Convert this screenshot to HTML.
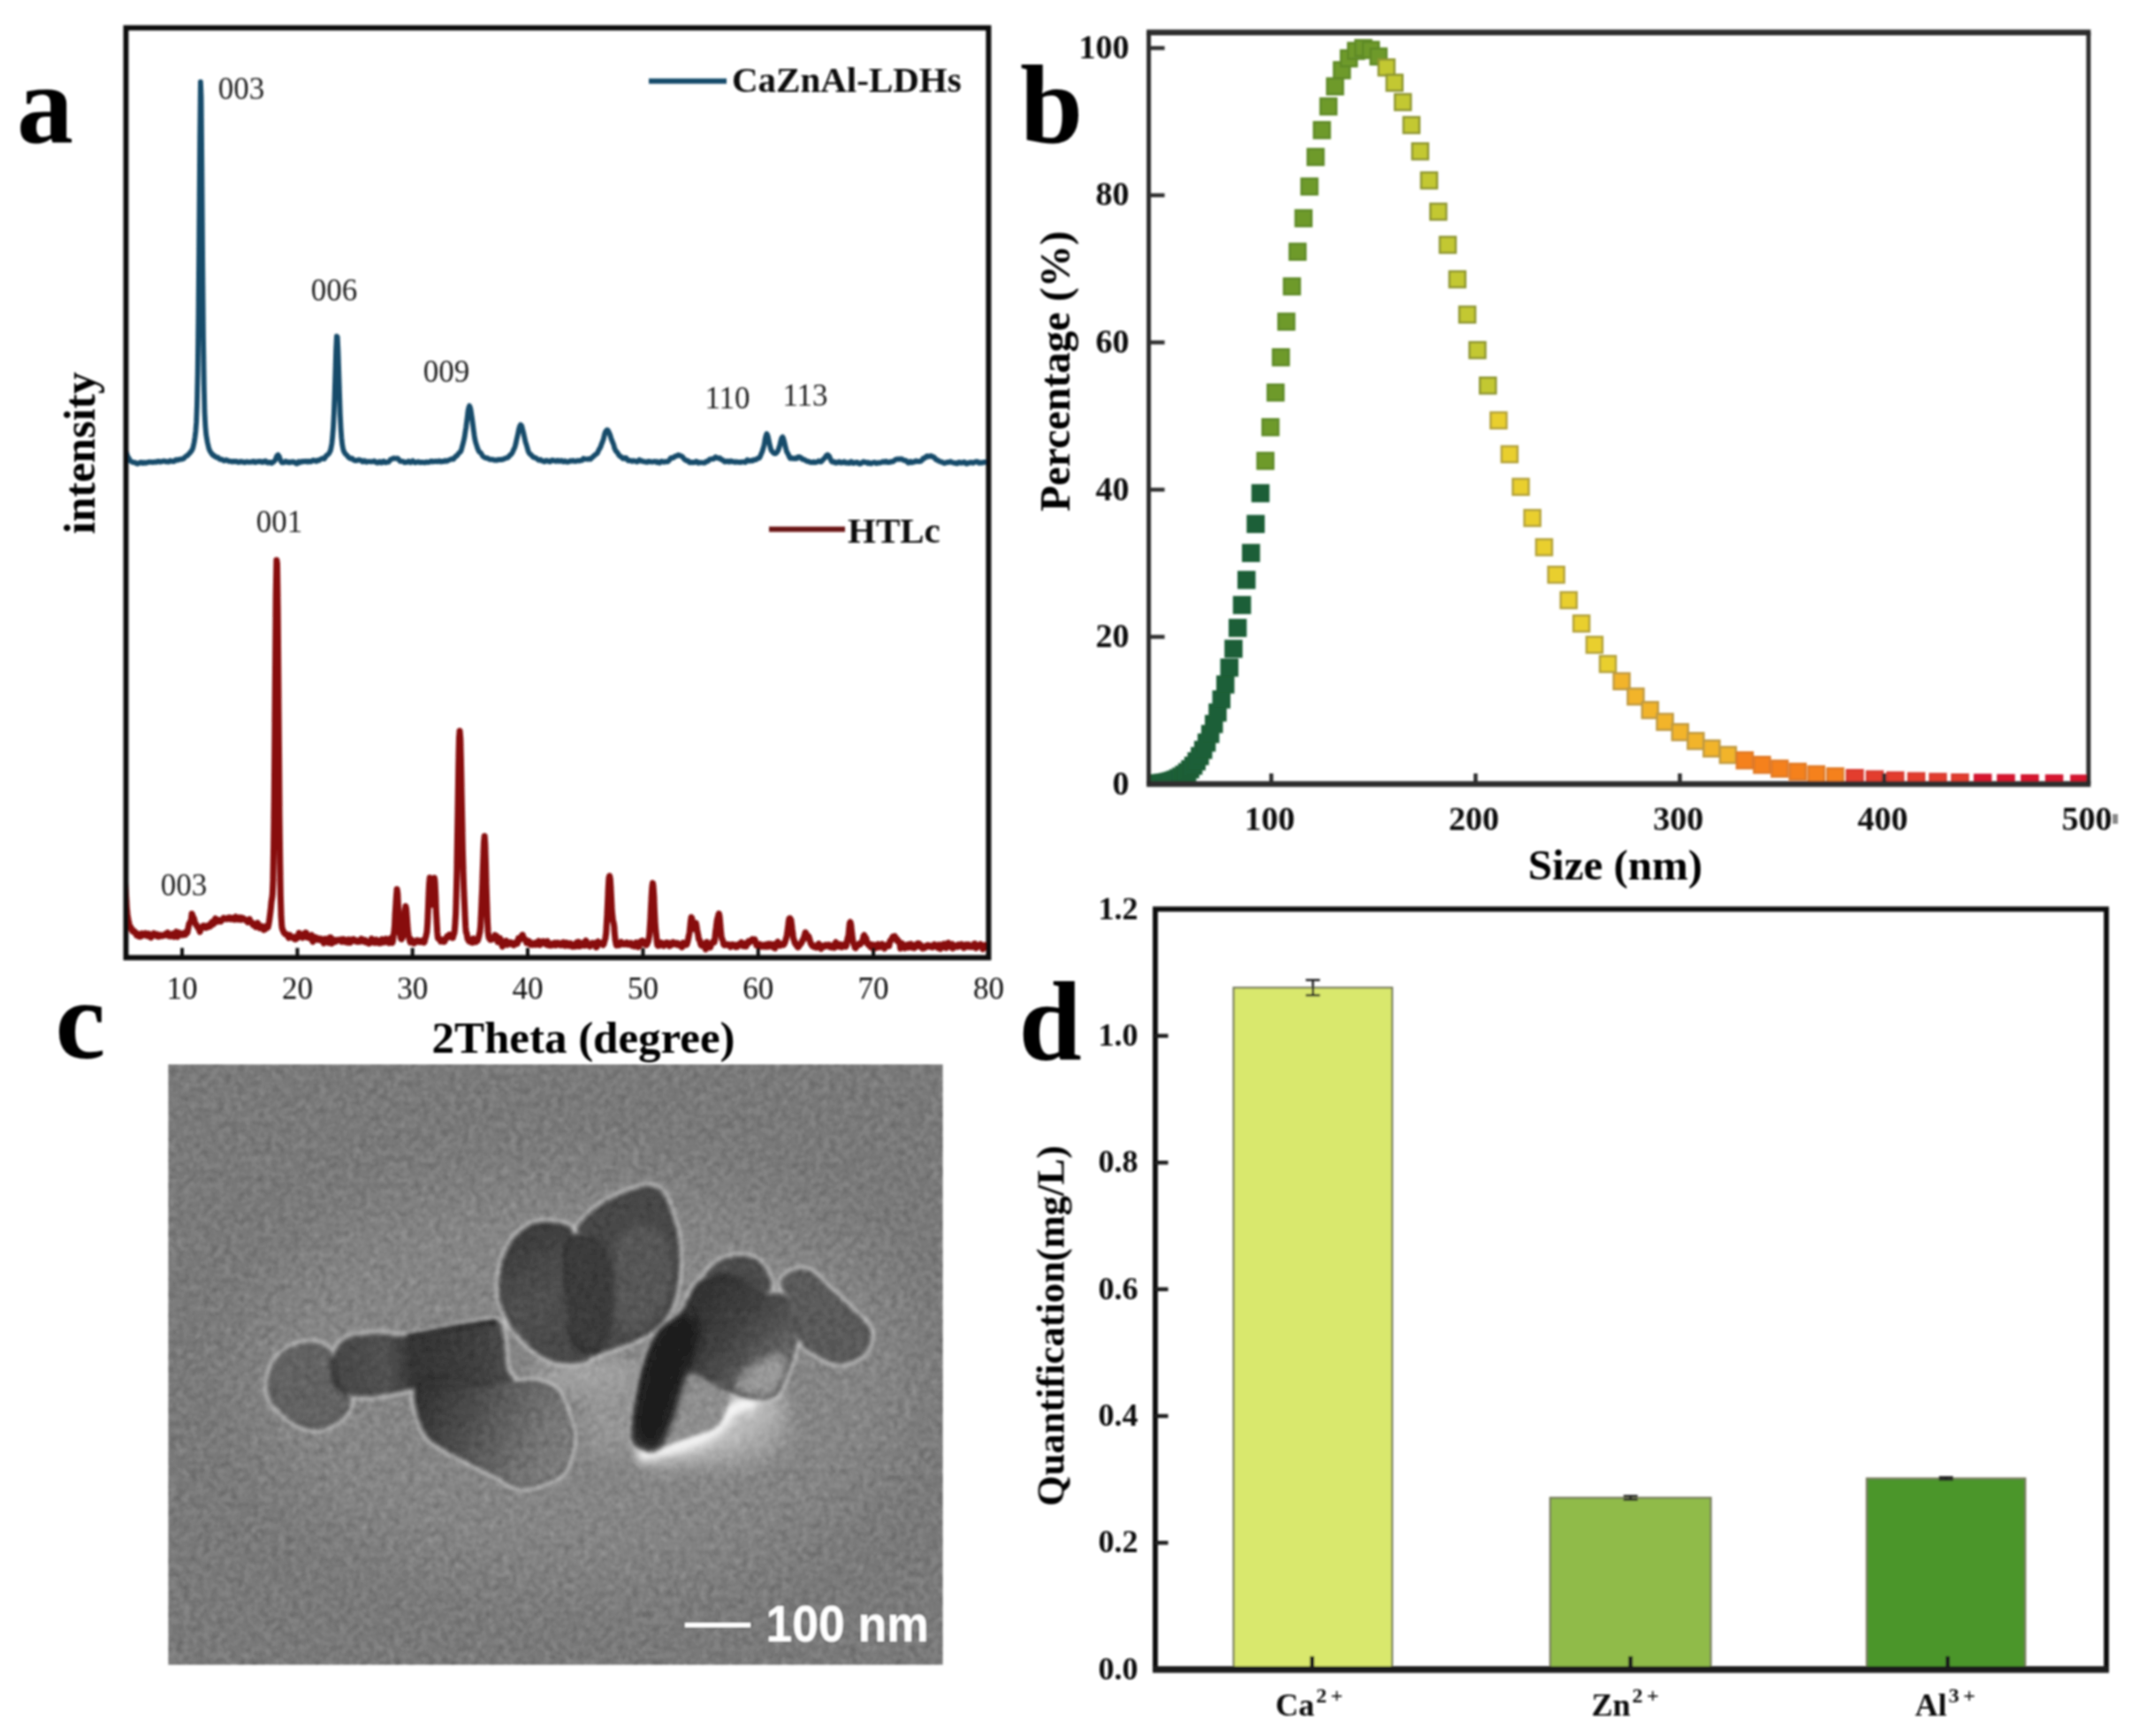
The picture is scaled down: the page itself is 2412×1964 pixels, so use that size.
<!DOCTYPE html>
<html><head><meta charset="utf-8"><title>Figure</title>
<style>html,body{margin:0;padding:0;background:#fff;overflow:hidden;}svg{display:block}</style></head>
<body>
<svg width="2412" height="1964" viewBox="0 0 2412 1964">
<rect width="2412" height="1964" fill="#ffffff"/>
<defs><filter id="soft" x="0" y="0" width="100%" height="100%" filterUnits="userSpaceOnUse"><feGaussianBlur stdDeviation="0.9"/></filter></defs>
<g id="all" filter="url(#soft)">
<clipPath id="clipA"><rect x="142.5" y="31.5" width="975.9000000000001" height="1051.9"/></clipPath>
<g clip-path="url(#clipA)" fill="none" stroke-linejoin="round" stroke-linecap="round">
<path d="M140.8,509.1 L141.6,509.5 L142.4,511.0 L143.2,512.9 L144.0,515.1 L144.7,516.8 L145.5,518.0 L146.3,519.4 L147.1,520.8 L147.9,521.9 L148.6,522.2 L149.4,522.3 L150.2,523.0 L151.0,523.2 L151.8,523.1 L152.6,523.3 L153.3,523.4 L154.1,524.3 L154.9,524.2 L155.7,524.7 L156.5,524.1 L157.2,524.1 L158.0,523.4 L158.8,523.3 L159.6,522.9 L160.4,523.8 L161.2,524.0 L161.9,524.0 L162.7,523.1 L163.5,523.4 L164.3,523.5 L165.1,523.9 L165.9,523.6 L166.6,523.1 L167.4,523.0 L168.2,522.7 L169.0,522.8 L169.8,522.7 L170.5,522.7 L171.3,522.9 L172.1,522.7 L172.9,523.0 L173.7,523.0 L174.5,522.6 L175.2,522.7 L176.0,522.4 L176.8,522.8 L177.6,522.4 L178.4,522.0 L179.1,521.8 L179.9,521.9 L180.7,522.6 L181.5,522.6 L182.3,522.2 L183.1,522.0 L183.8,522.1 L184.6,521.8 L185.4,521.5 L186.2,521.7 L187.0,521.8 L187.8,522.4 L188.5,522.0 L189.3,522.4 L190.1,522.4 L190.9,522.5 L191.7,521.7 L192.4,521.1 L193.2,521.3 L194.0,521.8 L194.8,521.9 L195.6,522.0 L196.4,521.8 L197.1,522.0 L197.9,520.8 L198.7,520.2 L199.5,520.2 L200.3,520.6 L201.0,520.7 L201.8,519.9 L202.6,519.8 L203.4,519.6 L204.2,519.8 L205.0,519.4 L205.7,519.1 L206.5,519.3 L207.3,518.9 L208.1,518.7 L208.9,517.5 L209.6,516.8 L210.4,516.2 L211.2,515.8 L212.0,515.5 L212.8,514.4 L213.6,513.8 L214.3,512.6 L215.1,512.3 L215.9,510.9 L216.7,510.1 L217.5,508.6 L218.3,506.7 L219.0,503.7 L219.8,499.7 L220.6,494.3 L221.4,487.8 L222.2,477.2 L222.9,457.8 L223.7,420.2 L224.5,357.3 L225.3,266.8 L226.1,163.5 L226.9,92.6 L227.6,108.8 L228.4,197.5 L229.2,300.1 L230.0,382.0 L230.8,435.3 L231.5,466.0 L232.3,481.6 L233.1,490.7 L233.9,496.1 L234.7,500.6 L235.5,503.8 L236.2,507.0 L237.0,509.2 L237.8,510.7 L238.6,512.1 L239.4,512.7 L240.2,514.4 L240.9,514.4 L241.7,515.7 L242.5,515.5 L243.3,516.4 L244.1,517.1 L244.8,517.5 L245.6,517.4 L246.4,517.3 L247.2,518.2 L248.0,519.0 L248.8,519.6 L249.5,519.4 L250.3,519.8 L251.1,519.7 L251.9,520.5 L252.7,520.7 L253.4,521.3 L254.2,520.8 L255.0,520.8 L255.8,520.2 L256.6,520.7 L257.4,521.0 L258.1,521.5 L258.9,521.8 L259.7,521.7 L260.5,521.8 L261.3,521.8 L262.1,522.3 L262.8,522.5 L263.6,521.9 L264.4,521.8 L265.2,521.9 L266.0,522.4 L266.7,521.8 L267.5,521.9 L268.3,522.2 L269.1,522.9 L269.9,523.0 L270.7,522.8 L271.4,522.6 L272.2,522.0 L273.0,522.5 L273.8,522.4 L274.6,522.6 L275.3,522.5 L276.1,523.0 L276.9,523.3 L277.7,522.8 L278.5,522.6 L279.3,522.1 L280.0,522.6 L280.8,522.6 L281.6,522.9 L282.4,522.7 L283.2,522.7 L283.9,522.6 L284.7,522.8 L285.5,522.3 L286.3,522.0 L287.1,521.9 L287.9,522.5 L288.6,523.2 L289.4,523.0 L290.2,522.5 L291.0,522.1 L291.8,522.3 L292.6,522.4 L293.3,522.0 L294.1,521.9 L294.9,522.3 L295.7,522.1 L296.5,522.9 L297.2,522.4 L298.0,522.8 L298.8,522.1 L299.6,521.7 L300.4,521.4 L301.2,522.1 L301.9,523.3 L302.7,523.5 L303.5,523.5 L304.3,522.9 L305.1,522.9 L305.8,523.1 L306.6,523.8 L307.4,524.0 L308.2,523.4 L309.0,522.6 L309.8,522.2 L310.5,521.6 L311.3,520.5 L312.1,518.6 L312.9,516.5 L313.7,515.1 L314.5,514.6 L315.2,515.4 L316.0,516.7 L316.8,519.3 L317.6,521.2 L318.4,522.8 L319.1,523.3 L319.9,523.2 L320.7,523.3 L321.5,522.9 L322.3,522.8 L323.1,521.9 L323.8,522.5 L324.6,522.3 L325.4,523.0 L326.2,522.5 L327.0,523.3 L327.7,523.4 L328.5,523.1 L329.3,522.6 L330.1,522.4 L330.9,522.8 L331.7,522.4 L332.4,522.4 L333.2,523.0 L334.0,523.6 L334.8,524.2 L335.6,524.6 L336.3,524.5 L337.1,523.4 L337.9,522.2 L338.7,522.4 L339.5,523.2 L340.3,522.8 L341.0,522.3 L341.8,521.9 L342.6,522.3 L343.4,522.3 L344.2,522.0 L345.0,521.8 L345.7,521.7 L346.5,522.3 L347.3,522.2 L348.1,522.5 L348.9,521.7 L349.6,522.3 L350.4,522.0 L351.2,522.3 L352.0,522.3 L352.8,521.6 L353.6,521.0 L354.3,520.6 L355.1,520.8 L355.9,521.1 L356.7,521.7 L357.5,521.8 L358.2,521.8 L359.0,520.7 L359.8,521.0 L360.6,520.9 L361.4,520.8 L362.2,519.8 L362.9,519.4 L363.7,519.1 L364.5,518.7 L365.3,518.6 L366.1,518.4 L366.9,519.1 L367.6,517.9 L368.4,516.9 L369.2,515.4 L370.0,515.0 L370.8,514.4 L371.5,513.7 L372.3,512.8 L373.1,511.4 L373.9,509.5 L374.7,506.0 L375.5,501.4 L376.2,494.4 L377.0,484.3 L377.8,468.9 L378.6,447.1 L379.4,421.6 L380.1,396.5 L380.9,380.5 L381.7,381.1 L382.5,397.7 L383.3,422.2 L384.1,447.1 L384.8,468.4 L385.6,484.6 L386.4,495.2 L387.2,502.7 L388.0,507.1 L388.8,510.3 L389.5,511.4 L390.3,513.1 L391.1,513.8 L391.9,514.6 L392.7,515.2 L393.4,516.3 L394.2,517.4 L395.0,517.8 L395.8,518.4 L396.6,518.8 L397.4,518.5 L398.1,518.5 L398.9,519.0 L399.7,520.3 L400.5,520.4 L401.3,520.9 L402.0,521.1 L402.8,521.0 L403.6,521.0 L404.4,520.5 L405.2,520.5 L406.0,520.2 L406.7,520.5 L407.5,520.5 L408.3,520.7 L409.1,521.2 L409.9,522.4 L410.6,522.4 L411.4,521.8 L412.2,521.1 L413.0,521.4 L413.8,522.3 L414.6,522.8 L415.3,522.5 L416.1,522.3 L416.9,522.1 L417.7,522.1 L418.5,522.2 L419.3,522.3 L420.0,522.4 L420.8,522.3 L421.6,522.2 L422.4,521.7 L423.2,521.5 L423.9,521.6 L424.7,522.8 L425.5,522.9 L426.3,523.6 L427.1,523.6 L427.9,523.4 L428.6,522.5 L429.4,522.1 L430.2,523.0 L431.0,523.4 L431.8,523.6 L432.5,522.8 L433.3,521.9 L434.1,521.6 L434.9,522.1 L435.7,523.2 L436.5,523.3 L437.2,523.0 L438.0,522.9 L438.8,522.6 L439.6,522.7 L440.4,521.6 L441.2,520.9 L441.9,519.6 L442.7,519.6 L443.5,519.2 L444.3,519.0 L445.1,518.4 L445.8,518.3 L446.6,518.5 L447.4,518.8 L448.2,518.6 L449.0,518.6 L449.8,518.5 L450.5,519.0 L451.3,520.1 L452.1,521.1 L452.9,521.9 L453.7,521.6 L454.4,521.9 L455.2,521.9 L456.0,522.1 L456.8,522.5 L457.6,523.3 L458.4,523.1 L459.1,522.6 L459.9,523.0 L460.7,522.8 L461.5,522.7 L462.3,521.7 L463.1,522.2 L463.8,522.5 L464.6,523.3 L465.4,522.4 L466.2,522.3 L467.0,521.4 L467.7,522.5 L468.5,522.3 L469.3,523.4 L470.1,523.3 L470.9,523.0 L471.7,522.9 L472.4,522.4 L473.2,522.6 L474.0,522.5 L474.8,523.0 L475.6,523.3 L476.3,522.9 L477.1,522.9 L477.9,523.0 L478.7,523.1 L479.5,523.2 L480.3,523.4 L481.0,523.3 L481.8,522.6 L482.6,522.7 L483.4,522.6 L484.2,523.1 L484.9,522.9 L485.7,522.6 L486.5,522.5 L487.3,521.7 L488.1,522.2 L488.9,521.8 L489.6,522.4 L490.4,522.3 L491.2,522.2 L492.0,522.2 L492.8,521.7 L493.6,521.8 L494.3,522.1 L495.1,522.3 L495.9,522.2 L496.7,521.4 L497.5,521.6 L498.2,521.6 L499.0,522.4 L499.8,521.8 L500.6,522.1 L501.4,522.0 L502.2,522.1 L502.9,521.3 L503.7,521.1 L504.5,521.3 L505.3,521.8 L506.1,521.5 L506.8,520.8 L507.6,520.7 L508.4,520.3 L509.2,520.0 L510.0,519.8 L510.8,519.1 L511.5,519.3 L512.3,519.2 L513.1,519.5 L513.9,518.2 L514.7,517.4 L515.5,516.2 L516.2,516.2 L517.0,515.4 L517.8,514.6 L518.6,513.1 L519.4,512.4 L520.1,511.7 L520.9,511.2 L521.7,509.6 L522.5,506.8 L523.3,503.7 L524.1,500.7 L524.8,497.9 L525.6,494.2 L526.4,488.6 L527.2,483.6 L528.0,477.3 L528.7,471.9 L529.5,464.9 L530.3,461.2 L531.1,459.1 L531.9,460.9 L532.7,464.3 L533.4,469.1 L534.2,474.4 L535.0,480.3 L535.8,486.8 L536.6,492.7 L537.3,497.0 L538.1,500.4 L538.9,502.8 L539.7,505.3 L540.5,507.8 L541.3,509.6 L542.0,511.1 L542.8,511.6 L543.6,512.0 L544.4,513.0 L545.2,514.5 L546.0,515.8 L546.7,516.6 L547.5,517.1 L548.3,517.6 L549.1,518.1 L549.9,518.0 L550.6,518.3 L551.4,518.2 L552.2,518.7 L553.0,519.1 L553.8,519.7 L554.6,519.9 L555.3,519.9 L556.1,519.7 L556.9,519.7 L557.7,520.0 L558.5,520.2 L559.2,520.7 L560.0,520.4 L560.8,520.6 L561.6,520.8 L562.4,520.6 L563.2,520.4 L563.9,519.8 L564.7,519.9 L565.5,520.0 L566.3,520.2 L567.1,520.0 L567.9,520.0 L568.6,519.5 L569.4,519.6 L570.2,519.2 L571.0,518.9 L571.8,518.3 L572.5,518.2 L573.3,517.8 L574.1,517.9 L574.9,517.1 L575.7,516.7 L576.5,515.4 L577.2,514.7 L578.0,514.2 L578.8,513.4 L579.6,512.1 L580.4,510.4 L581.1,508.6 L581.9,507.4 L582.7,505.1 L583.5,502.1 L584.3,498.1 L585.1,494.6 L585.8,491.7 L586.6,487.7 L587.4,484.2 L588.2,481.8 L589.0,480.6 L589.8,481.3 L590.5,482.8 L591.3,486.3 L592.1,489.2 L592.9,492.9 L593.7,496.4 L594.4,499.7 L595.2,502.0 L596.0,504.7 L596.8,507.6 L597.6,510.4 L598.4,512.1 L599.1,513.3 L599.9,513.8 L600.7,514.5 L601.5,515.2 L602.3,516.3 L603.0,516.9 L603.8,517.6 L604.6,517.6 L605.4,517.6 L606.2,518.1 L607.0,518.7 L607.7,519.2 L608.5,519.9 L609.3,520.6 L610.1,520.7 L610.9,520.6 L611.6,520.1 L612.4,521.0 L613.2,521.3 L614.0,521.7 L614.8,521.5 L615.6,522.3 L616.3,522.3 L617.1,521.8 L617.9,521.0 L618.7,521.1 L619.5,521.5 L620.3,521.4 L621.0,522.2 L621.8,522.3 L622.6,522.4 L623.4,521.3 L624.2,520.7 L624.9,520.6 L625.7,520.7 L626.5,521.2 L627.3,521.4 L628.1,521.7 L628.9,521.8 L629.6,521.8 L630.4,521.0 L631.2,521.0 L632.0,521.3 L632.8,521.9 L633.5,521.4 L634.3,521.4 L635.1,521.0 L635.9,521.8 L636.7,521.8 L637.5,522.4 L638.2,521.8 L639.0,521.4 L639.8,521.8 L640.6,522.4 L641.4,522.6 L642.2,522.3 L642.9,522.5 L643.7,522.2 L644.5,521.8 L645.3,521.1 L646.1,521.6 L646.8,521.4 L647.6,521.6 L648.4,521.0 L649.2,521.6 L650.0,521.8 L650.8,522.0 L651.5,521.9 L652.3,521.3 L653.1,521.2 L653.9,521.2 L654.7,521.4 L655.4,521.5 L656.2,520.8 L657.0,520.9 L657.8,520.9 L658.6,520.7 L659.4,519.6 L660.1,518.6 L660.9,518.9 L661.7,519.4 L662.5,519.4 L663.3,519.3 L664.0,519.5 L664.8,519.7 L665.6,519.3 L666.4,519.0 L667.2,519.2 L668.0,519.5 L668.7,518.7 L669.5,518.0 L670.3,517.1 L671.1,516.8 L671.9,515.7 L672.7,515.2 L673.4,514.4 L674.2,514.1 L675.0,513.2 L675.8,512.7 L676.6,510.9 L677.3,509.5 L678.1,507.9 L678.9,506.8 L679.7,505.0 L680.5,502.5 L681.3,500.7 L682.0,498.7 L682.8,496.6 L683.6,492.9 L684.4,490.0 L685.2,488.1 L685.9,487.4 L686.7,486.4 L687.5,486.6 L688.3,487.8 L689.1,489.6 L689.9,491.3 L690.6,493.3 L691.4,496.2 L692.2,498.2 L693.0,500.1 L693.8,501.9 L694.6,504.3 L695.3,507.3 L696.1,508.9 L696.9,510.6 L697.7,511.0 L698.5,512.1 L699.2,513.1 L700.0,514.7 L700.8,515.5 L701.6,516.4 L702.4,516.5 L703.2,517.4 L703.9,517.7 L704.7,518.8 L705.5,518.6 L706.3,518.8 L707.1,518.0 L707.8,518.0 L708.6,518.3 L709.4,519.6 L710.2,520.7 L711.0,521.3 L711.8,521.1 L712.5,520.9 L713.3,521.4 L714.1,521.2 L714.9,521.9 L715.7,521.3 L716.5,521.5 L717.2,521.2 L718.0,521.5 L718.8,521.7 L719.6,521.9 L720.4,522.5 L721.1,522.4 L721.9,521.7 L722.7,520.5 L723.5,520.1 L724.3,520.6 L725.1,521.5 L725.8,521.5 L726.6,521.8 L727.4,521.7 L728.2,522.3 L729.0,522.3 L729.7,522.4 L730.5,522.4 L731.3,522.8 L732.1,522.9 L732.9,522.1 L733.7,521.8 L734.4,521.8 L735.2,522.4 L736.0,522.2 L736.8,522.5 L737.6,522.7 L738.3,522.7 L739.1,522.3 L739.9,522.2 L740.7,522.0 L741.5,522.3 L742.3,522.3 L743.0,523.1 L743.8,522.3 L744.6,523.0 L745.4,523.1 L746.2,523.7 L747.0,522.9 L747.7,522.4 L748.5,521.7 L749.3,522.4 L750.1,522.3 L750.9,522.8 L751.6,522.3 L752.4,522.2 L753.2,522.2 L754.0,522.4 L754.8,522.4 L755.6,522.3 L756.3,521.4 L757.1,520.7 L757.9,519.6 L758.7,518.3 L759.5,517.9 L760.2,518.0 L761.0,518.2 L761.8,517.9 L762.6,517.3 L763.4,516.4 L764.2,516.0 L764.9,516.0 L765.7,515.7 L766.5,515.5 L767.3,514.8 L768.1,515.1 L768.9,515.2 L769.6,515.6 L770.4,515.7 L771.2,516.3 L772.0,516.7 L772.8,517.6 L773.5,518.8 L774.3,519.6 L775.1,520.3 L775.9,520.3 L776.7,521.2 L777.5,521.0 L778.2,521.4 L779.0,521.6 L779.8,523.0 L780.6,523.4 L781.4,523.2 L782.1,523.0 L782.9,523.0 L783.7,523.3 L784.5,522.9 L785.3,523.2 L786.1,523.1 L786.8,523.0 L787.6,521.9 L788.4,522.2 L789.2,522.7 L790.0,523.8 L790.8,523.2 L791.5,523.4 L792.3,523.2 L793.1,523.4 L793.9,523.3 L794.7,523.4 L795.4,523.4 L796.2,523.7 L797.0,523.7 L797.8,523.4 L798.6,522.5 L799.4,521.8 L800.1,521.9 L800.9,521.8 L801.7,521.1 L802.5,520.0 L803.3,519.5 L804.0,519.7 L804.8,519.3 L805.6,519.2 L806.4,519.0 L807.2,519.3 L808.0,518.4 L808.7,517.8 L809.5,517.1 L810.3,517.8 L811.1,517.7 L811.9,518.4 L812.6,518.5 L813.4,518.3 L814.2,518.2 L815.0,518.6 L815.8,519.8 L816.6,520.3 L817.3,520.1 L818.1,520.6 L818.9,521.6 L819.7,522.4 L820.5,522.5 L821.3,522.1 L822.0,521.7 L822.8,521.8 L823.6,521.7 L824.4,522.6 L825.2,522.5 L825.9,522.1 L826.7,521.5 L827.5,521.8 L828.3,522.4 L829.1,522.1 L829.9,522.5 L830.6,522.6 L831.4,523.0 L832.2,522.4 L833.0,522.5 L833.8,522.6 L834.5,522.9 L835.3,522.7 L836.1,522.8 L836.9,523.0 L837.7,523.1 L838.5,522.7 L839.2,522.6 L840.0,522.6 L840.8,522.7 L841.6,522.6 L842.4,522.5 L843.2,523.0 L843.9,522.2 L844.7,521.4 L845.5,520.3 L846.3,520.7 L847.1,521.1 L847.8,521.6 L848.6,521.4 L849.4,521.0 L850.2,521.4 L851.0,520.9 L851.8,521.3 L852.5,520.2 L853.3,520.2 L854.1,520.2 L854.9,520.2 L855.7,519.7 L856.4,519.0 L857.2,518.5 L858.0,518.3 L858.8,518.3 L859.6,517.2 L860.4,515.7 L861.1,513.6 L861.9,512.1 L862.7,509.8 L863.5,507.2 L864.3,504.1 L865.0,500.6 L865.8,496.0 L866.6,492.8 L867.4,490.7 L868.2,492.0 L869.0,494.6 L869.7,498.2 L870.5,501.8 L871.3,505.2 L872.1,508.3 L872.9,510.0 L873.7,510.7 L874.4,511.7 L875.2,512.6 L876.0,513.1 L876.8,513.1 L877.6,512.9 L878.3,512.5 L879.1,511.5 L879.9,510.4 L880.7,508.5 L881.5,506.0 L882.3,503.2 L883.0,500.3 L883.8,497.1 L884.6,495.0 L885.4,494.4 L886.2,495.9 L886.9,498.6 L887.7,501.5 L888.5,505.4 L889.3,508.2 L890.1,511.4 L890.9,512.4 L891.6,513.7 L892.4,515.5 L893.2,517.4 L894.0,518.5 L894.8,518.2 L895.6,518.0 L896.3,518.6 L897.1,518.8 L897.9,518.9 L898.7,518.7 L899.5,518.3 L900.2,518.9 L901.0,518.2 L901.8,518.5 L902.6,517.1 L903.4,517.1 L904.2,516.9 L904.9,517.2 L905.7,517.7 L906.5,518.1 L907.3,519.3 L908.1,519.7 L908.8,519.9 L909.6,519.7 L910.4,520.3 L911.2,520.6 L912.0,521.4 L912.8,521.7 L913.5,522.1 L914.3,521.9 L915.1,522.1 L915.9,522.5 L916.7,523.0 L917.5,522.9 L918.2,523.1 L919.0,522.8 L919.8,523.0 L920.6,522.5 L921.4,523.2 L922.1,522.9 L922.9,523.0 L923.7,522.9 L924.5,522.3 L925.3,522.3 L926.1,521.5 L926.8,521.8 L927.6,522.0 L928.4,522.5 L929.2,522.2 L930.0,521.4 L930.7,520.4 L931.5,519.6 L932.3,519.0 L933.1,517.8 L933.9,517.2 L934.7,515.5 L935.4,515.1 L936.2,514.5 L937.0,515.2 L937.8,515.7 L938.6,517.1 L939.3,518.9 L940.1,520.6 L940.9,522.0 L941.7,522.7 L942.5,522.5 L943.3,522.6 L944.0,522.4 L944.8,523.6 L945.6,523.3 L946.4,523.7 L947.2,523.2 L948.0,523.2 L948.7,522.5 L949.5,522.4 L950.3,522.6 L951.1,523.5 L951.9,523.4 L952.6,523.5 L953.4,522.9 L954.2,523.1 L955.0,522.4 L955.8,523.4 L956.6,523.5 L957.3,523.8 L958.1,523.2 L958.9,523.4 L959.7,523.8 L960.5,524.1 L961.2,523.8 L962.0,522.9 L962.8,522.1 L963.6,522.5 L964.4,523.6 L965.2,524.1 L965.9,523.4 L966.7,523.4 L967.5,523.5 L968.3,523.5 L969.1,523.0 L969.9,522.9 L970.6,523.5 L971.4,524.4 L972.2,524.5 L973.0,524.8 L973.8,524.1 L974.5,524.1 L975.3,523.2 L976.1,522.8 L976.9,522.2 L977.7,522.7 L978.5,523.1 L979.2,523.1 L980.0,522.9 L980.8,523.5 L981.6,524.0 L982.4,524.3 L983.1,523.4 L983.9,524.2 L984.7,524.1 L985.5,524.6 L986.3,523.9 L987.1,523.5 L987.8,523.3 L988.6,523.3 L989.4,523.0 L990.2,523.8 L991.0,523.7 L991.7,524.3 L992.5,523.6 L993.3,523.5 L994.1,523.6 L994.9,523.8 L995.7,523.6 L996.4,523.2 L997.2,523.2 L998.0,522.8 L998.8,522.1 L999.6,522.4 L1000.4,522.9 L1001.1,522.8 L1001.9,522.0 L1002.7,522.0 L1003.5,522.8 L1004.3,523.2 L1005.0,523.2 L1005.8,523.2 L1006.6,522.6 L1007.4,522.4 L1008.2,522.2 L1009.0,522.6 L1009.7,522.2 L1010.5,522.1 L1011.3,521.5 L1012.1,520.8 L1012.9,520.1 L1013.6,519.6 L1014.4,519.6 L1015.2,519.5 L1016.0,519.5 L1016.8,519.6 L1017.6,519.3 L1018.3,519.6 L1019.1,519.1 L1019.9,519.5 L1020.7,519.5 L1021.5,520.3 L1022.3,520.8 L1023.0,520.8 L1023.8,521.1 L1024.6,520.8 L1025.4,521.4 L1026.2,522.2 L1026.9,523.1 L1027.7,523.7 L1028.5,523.2 L1029.3,522.8 L1030.1,522.1 L1030.9,522.7 L1031.6,523.4 L1032.4,523.1 L1033.2,522.6 L1034.0,522.3 L1034.8,522.6 L1035.5,521.8 L1036.3,521.3 L1037.1,521.5 L1037.9,522.0 L1038.7,522.0 L1039.5,522.0 L1040.2,522.2 L1041.0,522.0 L1041.8,521.7 L1042.6,520.9 L1043.4,520.4 L1044.2,518.7 L1044.9,518.4 L1045.7,517.9 L1046.5,518.2 L1047.3,517.2 L1048.1,516.3 L1048.8,516.0 L1049.6,516.0 L1050.4,516.6 L1051.2,516.6 L1052.0,516.1 L1052.8,515.6 L1053.5,515.8 L1054.3,516.4 L1055.1,516.8 L1055.9,516.7 L1056.7,517.3 L1057.4,517.9 L1058.2,519.3 L1059.0,520.0 L1059.8,520.0 L1060.6,520.7 L1061.4,520.9 L1062.1,521.8 L1062.9,521.7 L1063.7,522.2 L1064.5,522.6 L1065.3,522.7 L1066.0,522.7 L1066.8,523.5 L1067.6,523.7 L1068.4,524.1 L1069.2,523.7 L1070.0,523.7 L1070.7,523.2 L1071.5,522.8 L1072.3,523.0 L1073.1,523.0 L1073.9,522.9 L1074.7,522.3 L1075.4,522.2 L1076.2,522.6 L1077.0,523.1 L1077.8,523.3 L1078.6,523.7 L1079.3,523.6 L1080.1,524.0 L1080.9,523.7 L1081.7,524.3 L1082.5,524.4 L1083.3,524.3 L1084.0,523.5 L1084.8,522.8 L1085.6,522.8 L1086.4,523.2 L1087.2,523.8 L1087.9,523.7 L1088.7,523.7 L1089.5,523.2 L1090.3,522.7 L1091.1,522.7 L1091.9,523.4 L1092.6,524.2 L1093.4,524.7 L1094.2,524.6 L1095.0,523.9 L1095.8,523.3 L1096.6,523.4 L1097.3,523.7 L1098.1,523.3 L1098.9,522.9 L1099.7,523.4 L1100.5,523.9 L1101.2,523.7 L1102.0,523.3 L1102.8,522.8 L1103.6,522.4 L1104.4,522.3 L1105.2,522.2 L1105.9,522.4 L1106.7,523.3 L1107.5,523.8 L1108.3,523.9 L1109.1,523.5 L1109.8,523.2 L1110.6,523.4 L1111.4,523.6 L1112.2,523.4 L1113.0,523.1 L1113.8,522.7 L1114.5,522.9 L1115.3,522.7 L1116.1,522.7 L1116.9,523.8 L1117.7,524.4 L1118.4,524.5" stroke="#174b6b" stroke-width="5.8"/>
<path d="M140.8,995.5 L141.5,997.8 L142.1,1005.3 L142.8,1017.2 L143.4,1027.4 L144.1,1034.2 L144.7,1038.5 L145.4,1041.9 L146.0,1044.6 L146.7,1048.6 L147.3,1049.5 L148.0,1049.0 L148.6,1051.0 L149.3,1051.9 L149.9,1053.7 L150.6,1053.6 L151.3,1052.9 L151.9,1054.0 L152.6,1055.4 L153.2,1054.8 L153.9,1055.8 L154.5,1058.2 L155.2,1057.1 L155.8,1056.5 L156.5,1059.0 L157.1,1059.3 L157.8,1057.9 L158.4,1058.4 L159.1,1059.6 L159.7,1058.5 L160.4,1056.2 L161.0,1056.5 L161.7,1058.2 L162.3,1057.7 L163.0,1056.3 L163.6,1057.1 L164.3,1057.3 L164.9,1056.0 L165.6,1056.8 L166.2,1058.7 L166.9,1058.2 L167.5,1057.2 L168.2,1056.5 L168.9,1058.1 L169.5,1059.9 L170.2,1059.5 L170.8,1060.6 L171.5,1059.7 L172.1,1057.4 L172.8,1058.3 L173.4,1057.5 L174.1,1056.0 L174.7,1056.7 L175.4,1057.2 L176.0,1056.9 L176.7,1058.6 L177.3,1059.0 L178.0,1057.1 L178.6,1059.5 L179.3,1059.7 L179.9,1058.2 L180.6,1057.8 L181.2,1058.0 L181.9,1058.8 L182.5,1058.0 L183.2,1058.9 L183.8,1058.7 L184.5,1057.9 L185.1,1058.0 L185.8,1058.4 L186.4,1057.8 L187.1,1056.7 L187.8,1057.9 L188.4,1057.9 L189.1,1056.4 L189.7,1055.2 L190.4,1058.1 L191.0,1058.9 L191.7,1056.9 L192.3,1057.8 L193.0,1059.3 L193.6,1057.9 L194.3,1058.1 L194.9,1058.8 L195.6,1056.2 L196.2,1058.3 L196.9,1059.8 L197.5,1059.5 L198.2,1058.9 L198.8,1056.0 L199.5,1054.2 L200.1,1057.4 L200.8,1059.9 L201.4,1057.3 L202.1,1055.1 L202.7,1055.3 L203.4,1057.5 L204.0,1057.6 L204.7,1056.7 L205.3,1057.1 L206.0,1057.8 L206.7,1057.0 L207.3,1055.9 L208.0,1056.2 L208.6,1056.6 L209.3,1057.5 L209.9,1057.4 L210.6,1054.5 L211.2,1053.5 L211.9,1055.2 L212.5,1052.3 L213.2,1048.7 L213.8,1045.8 L214.5,1043.9 L215.1,1043.9 L215.8,1043.0 L216.4,1039.2 L217.1,1033.8 L217.7,1035.3 L218.4,1038.7 L219.0,1038.3 L219.7,1040.1 L220.3,1043.0 L221.0,1044.6 L221.6,1046.2 L222.3,1046.4 L222.9,1047.9 L223.6,1048.9 L224.2,1050.0 L224.9,1050.8 L225.6,1052.6 L226.2,1054.3 L226.9,1051.2 L227.5,1050.2 L228.2,1050.1 L228.8,1048.7 L229.5,1047.7 L230.1,1047.2 L230.8,1047.2 L231.4,1047.8 L232.1,1049.2 L232.7,1049.6 L233.4,1049.1 L234.0,1049.2 L234.7,1048.9 L235.3,1047.6 L236.0,1046.5 L236.6,1046.5 L237.3,1048.3 L237.9,1047.8 L238.6,1045.3 L239.2,1043.9 L239.9,1043.2 L240.5,1044.7 L241.2,1045.7 L241.8,1042.7 L242.5,1041.0 L243.1,1040.9 L243.8,1039.2 L244.5,1041.6 L245.1,1043.1 L245.8,1041.5 L246.4,1041.1 L247.1,1040.8 L247.7,1040.9 L248.4,1041.0 L249.0,1042.5 L249.7,1042.6 L250.3,1041.6 L251.0,1041.1 L251.6,1040.6 L252.3,1040.0 L252.9,1038.5 L253.6,1038.6 L254.2,1039.0 L254.9,1039.0 L255.5,1039.6 L256.2,1039.8 L256.8,1039.7 L257.5,1039.0 L258.1,1038.4 L258.8,1038.1 L259.4,1039.4 L260.1,1039.0 L260.7,1038.4 L261.4,1039.9 L262.1,1039.3 L262.7,1039.1 L263.4,1038.6 L264.0,1038.6 L264.7,1040.0 L265.3,1040.3 L266.0,1038.0 L266.6,1037.1 L267.3,1039.6 L267.9,1039.8 L268.6,1040.2 L269.2,1038.5 L269.9,1038.6 L270.5,1040.0 L271.2,1038.1 L271.8,1040.1 L272.5,1040.5 L273.1,1038.2 L273.8,1038.2 L274.4,1039.1 L275.1,1038.8 L275.7,1039.1 L276.4,1040.0 L277.0,1040.5 L277.7,1040.4 L278.3,1041.4 L279.0,1041.5 L279.6,1041.3 L280.3,1043.4 L281.0,1042.8 L281.6,1040.3 L282.3,1040.0 L282.9,1042.4 L283.6,1043.0 L284.2,1043.2 L284.9,1044.3 L285.5,1044.1 L286.2,1046.6 L286.8,1046.7 L287.5,1045.8 L288.1,1046.9 L288.8,1047.7 L289.4,1048.8 L290.1,1048.6 L290.7,1046.5 L291.4,1044.2 L292.0,1045.4 L292.7,1046.2 L293.3,1046.8 L294.0,1050.1 L294.6,1049.9 L295.3,1047.8 L295.9,1048.7 L296.6,1049.1 L297.2,1048.3 L297.9,1049.7 L298.5,1052.0 L299.2,1051.6 L299.9,1050.5 L300.5,1050.8 L301.2,1049.7 L301.8,1047.6 L302.5,1048.9 L303.1,1049.2 L303.8,1046.3 L304.4,1043.1 L305.1,1038.1 L305.7,1033.2 L306.4,1027.7 L307.0,1020.8 L307.7,1016.7 L308.3,1011.9 L309.0,994.6 L309.6,958.2 L310.3,903.0 L310.9,830.4 L311.6,746.3 L312.2,674.1 L312.9,633.8 L313.5,637.7 L314.2,689.2 L314.8,765.3 L315.5,847.4 L316.1,923.3 L316.8,978.0 L317.4,1013.2 L318.1,1036.5 L318.8,1047.7 L319.4,1051.0 L320.1,1052.4 L320.7,1054.0 L321.4,1055.5 L322.0,1055.9 L322.7,1056.8 L323.3,1056.6 L324.0,1056.7 L324.6,1057.9 L325.3,1057.9 L325.9,1059.5 L326.6,1061.0 L327.2,1058.7 L327.9,1057.9 L328.5,1059.9 L329.2,1060.1 L329.8,1060.4 L330.5,1060.6 L331.1,1060.9 L331.8,1061.0 L332.4,1061.9 L333.1,1060.9 L333.7,1059.8 L334.4,1062.7 L335.0,1062.3 L335.7,1060.9 L336.3,1060.3 L337.0,1060.9 L337.7,1060.4 L338.3,1055.4 L339.0,1056.7 L339.6,1059.7 L340.3,1058.5 L340.9,1058.4 L341.6,1059.6 L342.2,1060.8 L342.9,1058.4 L343.5,1057.2 L344.2,1056.1 L344.8,1056.8 L345.5,1058.5 L346.1,1055.1 L346.8,1056.3 L347.4,1060.5 L348.1,1060.1 L348.7,1059.7 L349.4,1059.2 L350.0,1059.5 L350.7,1061.5 L351.3,1061.8 L352.0,1058.7 L352.6,1058.0 L353.3,1063.7 L353.9,1065.4 L354.6,1063.7 L355.3,1063.1 L355.9,1062.6 L356.6,1061.4 L357.2,1060.4 L357.9,1061.5 L358.5,1062.3 L359.2,1063.3 L359.8,1063.2 L360.5,1061.9 L361.1,1061.8 L361.8,1063.4 L362.4,1062.7 L363.1,1062.2 L363.7,1063.6 L364.4,1064.6 L365.0,1065.1 L365.7,1065.0 L366.3,1067.2 L367.0,1065.6 L367.6,1062.2 L368.3,1063.5 L368.9,1063.0 L369.6,1062.4 L370.2,1063.1 L370.9,1066.0 L371.5,1066.6 L372.2,1063.6 L372.8,1061.8 L373.5,1060.5 L374.2,1060.7 L374.8,1063.7 L375.5,1067.4 L376.1,1065.7 L376.8,1063.5 L377.4,1063.1 L378.1,1063.2 L378.7,1064.0 L379.4,1065.4 L380.0,1065.2 L380.7,1064.1 L381.3,1064.2 L382.0,1063.4 L382.6,1063.8 L383.3,1064.0 L383.9,1063.9 L384.6,1063.5 L385.2,1063.0 L385.9,1064.3 L386.5,1065.4 L387.2,1063.1 L387.8,1062.6 L388.5,1063.4 L389.1,1062.9 L389.8,1064.5 L390.4,1065.7 L391.1,1065.0 L391.7,1064.0 L392.4,1063.5 L393.1,1065.0 L393.7,1066.3 L394.4,1065.1 L395.0,1062.9 L395.7,1065.2 L396.3,1066.4 L397.0,1064.6 L397.6,1064.6 L398.3,1064.6 L398.9,1064.6 L399.6,1062.6 L400.2,1062.6 L400.9,1063.8 L401.5,1063.8 L402.2,1064.9 L402.8,1064.8 L403.5,1064.3 L404.1,1065.6 L404.8,1065.5 L405.4,1064.9 L406.1,1064.1 L406.7,1063.9 L407.4,1065.2 L408.0,1063.7 L408.7,1062.2 L409.3,1062.4 L410.0,1062.8 L410.6,1064.2 L411.3,1065.3 L412.0,1065.4 L412.6,1064.1 L413.3,1063.7 L413.9,1066.1 L414.6,1066.3 L415.2,1066.2 L415.9,1066.1 L416.5,1065.9 L417.2,1067.3 L417.8,1066.0 L418.5,1064.8 L419.1,1066.6 L419.8,1065.8 L420.4,1062.0 L421.1,1064.2 L421.7,1064.6 L422.4,1063.8 L423.0,1066.1 L423.7,1065.6 L424.3,1066.6 L425.0,1065.1 L425.6,1063.1 L426.3,1065.2 L426.9,1066.0 L427.6,1066.8 L428.2,1066.8 L428.9,1064.4 L429.6,1065.8 L430.2,1067.1 L430.9,1065.3 L431.5,1063.8 L432.2,1062.6 L432.8,1064.1 L433.5,1066.2 L434.1,1065.3 L434.8,1064.9 L435.4,1065.7 L436.1,1064.2 L436.7,1062.2 L437.4,1063.0 L438.0,1064.9 L438.7,1064.5 L439.3,1066.2 L440.0,1066.8 L440.6,1065.9 L441.3,1063.4 L441.9,1061.6 L442.6,1063.7 L443.2,1064.4 L443.9,1066.6 L444.5,1064.5 L445.2,1057.9 L445.8,1054.5 L446.5,1047.3 L447.1,1034.5 L447.8,1023.9 L448.5,1013.0 L449.1,1005.9 L449.8,1010.8 L450.4,1022.8 L451.1,1035.0 L451.7,1047.8 L452.4,1056.6 L453.0,1058.7 L453.7,1062.2 L454.3,1062.6 L455.0,1060.5 L455.6,1060.4 L456.3,1054.5 L456.9,1045.5 L457.6,1036.2 L458.2,1029.0 L458.9,1025.3 L459.5,1027.9 L460.2,1036.1 L460.8,1045.0 L461.5,1053.6 L462.1,1057.6 L462.8,1060.5 L463.4,1063.8 L464.1,1066.1 L464.7,1064.9 L465.4,1063.1 L466.0,1064.7 L466.7,1065.2 L467.4,1066.0 L468.0,1067.3 L468.7,1067.1 L469.3,1065.7 L470.0,1064.6 L470.6,1065.7 L471.3,1065.3 L471.9,1063.8 L472.6,1064.3 L473.2,1064.1 L473.9,1064.5 L474.5,1065.7 L475.2,1064.9 L475.8,1064.8 L476.5,1064.4 L477.1,1065.6 L477.8,1064.9 L478.4,1064.3 L479.1,1065.8 L479.7,1066.3 L480.4,1065.2 L481.0,1061.9 L481.7,1060.0 L482.3,1057.4 L483.0,1054.0 L483.6,1045.6 L484.3,1030.4 L484.9,1014.6 L485.6,999.7 L486.3,992.9 L486.9,997.8 L487.6,1007.5 L488.2,1018.2 L488.9,1023.6 L489.5,1019.5 L490.2,1008.3 L490.8,997.1 L491.5,993.3 L492.1,998.3 L492.8,1013.5 L493.4,1031.1 L494.1,1043.7 L494.7,1054.5 L495.4,1061.2 L496.0,1061.9 L496.7,1061.7 L497.3,1062.3 L498.0,1063.6 L498.6,1065.1 L499.3,1064.1 L499.9,1064.3 L500.6,1065.1 L501.2,1063.3 L501.9,1063.9 L502.5,1065.5 L503.2,1064.7 L503.8,1062.9 L504.5,1061.5 L505.2,1060.8 L505.8,1059.5 L506.5,1060.0 L507.1,1060.3 L507.8,1057.8 L508.4,1057.5 L509.1,1059.1 L509.7,1059.9 L510.4,1060.3 L511.0,1060.1 L511.7,1061.0 L512.3,1061.0 L513.0,1058.0 L513.6,1056.7 L514.3,1053.2 L514.9,1045.2 L515.6,1034.3 L516.2,1014.0 L516.9,984.4 L517.5,946.1 L518.2,904.9 L518.8,865.2 L519.5,834.8 L520.1,827.0 L520.8,836.1 L521.4,858.5 L522.1,894.6 L522.8,930.4 L523.4,961.8 L524.1,986.5 L524.7,1005.1 L525.4,1020.5 L526.0,1034.1 L526.7,1048.5 L527.3,1054.9 L528.0,1055.6 L528.6,1059.9 L529.3,1063.1 L529.9,1063.2 L530.6,1064.8 L531.2,1064.5 L531.9,1062.7 L532.5,1064.7 L533.2,1065.9 L533.8,1064.4 L534.5,1066.5 L535.1,1065.2 L535.8,1061.9 L536.4,1064.5 L537.1,1064.7 L537.7,1063.7 L538.4,1065.6 L539.0,1064.1 L539.7,1063.5 L540.3,1064.4 L541.0,1062.3 L541.7,1059.7 L542.3,1056.9 L543.0,1053.9 L543.6,1048.1 L544.3,1034.8 L544.9,1020.8 L545.6,1005.7 L546.2,987.0 L546.9,967.7 L547.5,952.6 L548.2,945.9 L548.8,954.7 L549.5,976.5 L550.1,1000.4 L550.8,1022.1 L551.4,1041.0 L552.1,1053.8 L552.7,1059.0 L553.4,1061.4 L554.0,1062.0 L554.7,1063.2 L555.3,1063.3 L556.0,1062.9 L556.6,1062.2 L557.3,1061.5 L557.9,1062.1 L558.6,1061.7 L559.2,1060.3 L559.9,1057.9 L560.6,1058.7 L561.2,1060.8 L561.9,1059.1 L562.5,1061.9 L563.2,1065.7 L563.8,1065.4 L564.5,1064.4 L565.1,1061.4 L565.8,1061.5 L566.4,1063.3 L567.1,1064.4 L567.7,1068.4 L568.4,1070.8 L569.0,1067.6 L569.7,1065.3 L570.3,1067.8 L571.0,1067.0 L571.6,1067.3 L572.3,1067.3 L572.9,1064.4 L573.6,1066.3 L574.2,1068.9 L574.9,1067.3 L575.5,1067.3 L576.2,1067.3 L576.8,1067.4 L577.5,1067.5 L578.1,1066.2 L578.8,1067.5 L579.5,1068.5 L580.1,1067.8 L580.8,1068.8 L581.4,1069.3 L582.1,1067.8 L582.7,1066.8 L583.4,1067.6 L584.0,1066.4 L584.7,1065.2 L585.3,1067.6 L586.0,1065.3 L586.6,1061.6 L587.3,1062.1 L587.9,1063.5 L588.6,1062.1 L589.2,1060.9 L589.9,1060.6 L590.5,1058.1 L591.2,1057.6 L591.8,1059.7 L592.5,1060.8 L593.1,1062.2 L593.8,1062.9 L594.4,1063.0 L595.1,1065.1 L595.7,1066.6 L596.4,1064.2 L597.0,1064.2 L597.7,1067.0 L598.4,1065.5 L599.0,1065.3 L599.7,1068.5 L600.3,1067.9 L601.0,1067.7 L601.6,1068.9 L602.3,1067.6 L602.9,1067.3 L603.6,1068.4 L604.2,1068.8 L604.9,1068.6 L605.5,1066.9 L606.2,1067.1 L606.8,1068.8 L607.5,1066.1 L608.1,1066.1 L608.8,1066.6 L609.4,1064.7 L610.1,1066.4 L610.7,1069.1 L611.4,1068.5 L612.0,1066.5 L612.7,1066.0 L613.3,1066.6 L614.0,1066.3 L614.6,1065.0 L615.3,1067.3 L616.0,1067.3 L616.6,1066.0 L617.3,1068.0 L617.9,1068.5 L618.6,1066.1 L619.2,1064.8 L619.9,1068.5 L620.5,1069.4 L621.2,1067.7 L621.8,1068.0 L622.5,1068.4 L623.1,1069.7 L623.8,1068.3 L624.4,1067.8 L625.1,1069.0 L625.7,1068.7 L626.4,1069.1 L627.0,1067.7 L627.7,1066.6 L628.3,1068.1 L629.0,1069.4 L629.6,1069.2 L630.3,1067.3 L630.9,1066.7 L631.6,1067.4 L632.2,1067.9 L632.9,1068.4 L633.5,1067.9 L634.2,1069.4 L634.9,1068.1 L635.5,1067.0 L636.2,1069.2 L636.8,1067.1 L637.5,1066.3 L638.1,1067.6 L638.8,1068.4 L639.4,1070.0 L640.1,1069.3 L640.7,1066.5 L641.4,1067.6 L642.0,1067.4 L642.7,1067.7 L643.3,1069.8 L644.0,1068.1 L644.6,1067.4 L645.3,1067.2 L645.9,1068.0 L646.6,1069.7 L647.2,1070.8 L647.9,1071.0 L648.5,1070.2 L649.2,1070.5 L649.8,1069.1 L650.5,1068.3 L651.1,1070.6 L651.8,1067.5 L652.4,1066.3 L653.1,1070.1 L653.8,1068.0 L654.4,1065.6 L655.1,1068.0 L655.7,1070.6 L656.4,1070.5 L657.0,1067.9 L657.7,1067.2 L658.3,1069.1 L659.0,1068.9 L659.6,1066.9 L660.3,1068.2 L660.9,1069.8 L661.6,1069.8 L662.2,1067.3 L662.9,1064.1 L663.5,1065.3 L664.2,1067.2 L664.8,1067.5 L665.5,1069.5 L666.1,1069.9 L666.8,1069.1 L667.4,1070.7 L668.1,1070.1 L668.7,1069.1 L669.4,1067.8 L670.0,1066.8 L670.7,1067.1 L671.3,1068.7 L672.0,1068.3 L672.7,1067.5 L673.3,1067.0 L674.0,1067.7 L674.6,1071.7 L675.3,1071.2 L675.9,1066.3 L676.6,1065.3 L677.2,1067.6 L677.9,1067.2 L678.5,1066.5 L679.2,1066.8 L679.8,1067.8 L680.5,1068.1 L681.1,1067.3 L681.8,1067.9 L682.4,1069.1 L683.1,1067.9 L683.7,1065.2 L684.4,1063.2 L685.0,1060.8 L685.7,1055.7 L686.3,1045.2 L687.0,1033.5 L687.6,1020.5 L688.3,1004.0 L688.9,993.6 L689.6,991.0 L690.3,994.2 L690.9,1003.5 L691.6,1017.4 L692.2,1029.9 L692.9,1036.9 L693.5,1042.0 L694.2,1044.1 L694.8,1048.1 L695.5,1057.4 L696.1,1063.1 L696.8,1066.9 L697.4,1069.6 L698.1,1068.5 L698.7,1068.7 L699.4,1067.7 L700.0,1068.4 L700.7,1069.2 L701.3,1067.2 L702.0,1066.1 L702.6,1065.7 L703.3,1067.0 L703.9,1067.9 L704.6,1068.2 L705.2,1067.2 L705.9,1067.8 L706.5,1068.4 L707.2,1067.9 L707.8,1068.1 L708.5,1068.3 L709.2,1066.4 L709.8,1066.9 L710.5,1068.7 L711.1,1067.8 L711.8,1067.5 L712.4,1067.3 L713.1,1067.5 L713.7,1067.0 L714.4,1068.9 L715.0,1069.9 L715.7,1069.6 L716.3,1069.4 L717.0,1069.3 L717.6,1070.5 L718.3,1069.4 L718.9,1067.1 L719.6,1066.4 L720.2,1067.5 L720.9,1066.7 L721.5,1067.9 L722.2,1071.4 L722.8,1070.9 L723.5,1069.1 L724.1,1067.4 L724.8,1065.0 L725.4,1067.5 L726.1,1067.2 L726.7,1064.2 L727.4,1065.8 L728.1,1067.0 L728.7,1065.4 L729.4,1065.6 L730.0,1068.4 L730.7,1068.3 L731.3,1069.0 L732.0,1068.3 L732.6,1066.4 L733.3,1065.3 L733.9,1062.2 L734.6,1058.8 L735.2,1050.2 L735.9,1039.3 L736.5,1026.5 L737.2,1013.6 L737.8,1003.8 L738.5,999.1 L739.1,1003.4 L739.8,1013.6 L740.4,1029.2 L741.1,1042.9 L741.7,1051.5 L742.4,1057.5 L743.0,1063.8 L743.7,1069.1 L744.3,1069.9 L745.0,1068.6 L745.6,1068.7 L746.3,1069.5 L747.0,1068.1 L747.6,1066.4 L748.3,1066.6 L748.9,1068.6 L749.6,1069.3 L750.2,1068.6 L750.9,1070.1 L751.5,1069.1 L752.2,1067.6 L752.8,1069.0 L753.5,1067.7 L754.1,1066.4 L754.8,1067.0 L755.4,1066.6 L756.1,1066.7 L756.7,1069.2 L757.4,1070.3 L758.0,1068.1 L758.7,1068.5 L759.3,1069.4 L760.0,1068.3 L760.6,1066.9 L761.3,1066.0 L761.9,1066.5 L762.6,1068.0 L763.2,1068.0 L763.9,1067.3 L764.5,1068.4 L765.2,1067.6 L765.9,1066.9 L766.5,1069.0 L767.2,1068.2 L767.8,1067.7 L768.5,1068.4 L769.1,1069.7 L769.8,1070.3 L770.4,1069.7 L771.1,1070.6 L771.7,1071.6 L772.4,1068.4 L773.0,1066.6 L773.7,1068.5 L774.3,1067.2 L775.0,1067.5 L775.6,1068.0 L776.3,1068.9 L776.9,1068.7 L777.6,1066.6 L778.2,1064.3 L778.9,1060.5 L779.5,1057.9 L780.2,1054.4 L780.8,1048.4 L781.5,1041.3 L782.1,1037.8 L782.8,1038.9 L783.5,1044.1 L784.1,1050.2 L784.8,1050.7 L785.4,1048.5 L786.1,1047.3 L786.7,1045.2 L787.4,1044.5 L788.0,1047.9 L788.7,1052.3 L789.3,1055.5 L790.0,1059.0 L790.6,1062.8 L791.3,1063.2 L791.9,1064.9 L792.6,1068.0 L793.2,1069.2 L793.9,1069.9 L794.5,1068.5 L795.2,1067.6 L795.8,1068.3 L796.5,1068.5 L797.1,1068.3 L797.8,1070.6 L798.4,1074.0 L799.1,1069.8 L799.7,1065.7 L800.4,1068.1 L801.0,1070.6 L801.7,1071.8 L802.4,1068.7 L803.0,1070.2 L803.7,1071.8 L804.3,1068.1 L805.0,1067.5 L805.6,1067.4 L806.3,1067.2 L806.9,1064.8 L807.6,1064.3 L808.2,1065.9 L808.9,1061.4 L809.5,1054.3 L810.2,1049.5 L810.8,1044.3 L811.5,1039.7 L812.1,1038.3 L812.8,1035.0 L813.4,1033.6 L814.1,1037.1 L814.7,1044.2 L815.4,1052.5 L816.0,1058.4 L816.7,1061.8 L817.3,1063.2 L818.0,1064.7 L818.6,1068.1 L819.3,1069.2 L819.9,1068.2 L820.6,1068.6 L821.3,1068.8 L821.9,1069.1 L822.6,1068.6 L823.2,1068.3 L823.9,1068.7 L824.5,1069.5 L825.2,1069.4 L825.8,1068.9 L826.5,1071.4 L827.1,1070.8 L827.8,1069.0 L828.4,1068.5 L829.1,1068.5 L829.7,1069.5 L830.4,1069.1 L831.0,1069.1 L831.7,1069.7 L832.3,1071.5 L833.0,1069.2 L833.6,1069.0 L834.3,1071.2 L834.9,1069.0 L835.6,1068.3 L836.2,1068.4 L836.9,1068.0 L837.5,1067.3 L838.2,1067.8 L838.8,1066.1 L839.5,1067.5 L840.2,1070.1 L840.8,1069.5 L841.5,1070.3 L842.1,1069.6 L842.8,1067.6 L843.4,1068.6 L844.1,1070.7 L844.7,1069.1 L845.4,1067.6 L846.0,1066.0 L846.7,1064.9 L847.3,1065.9 L848.0,1066.3 L848.6,1065.3 L849.3,1064.1 L849.9,1064.8 L850.6,1064.0 L851.2,1062.6 L851.9,1063.1 L852.5,1063.9 L853.2,1062.9 L853.8,1062.8 L854.5,1064.6 L855.1,1066.9 L855.8,1069.6 L856.4,1069.8 L857.1,1069.0 L857.7,1069.3 L858.4,1069.9 L859.1,1068.6 L859.7,1068.2 L860.4,1070.2 L861.0,1070.9 L861.7,1070.6 L862.3,1070.0 L863.0,1070.5 L863.6,1070.8 L864.3,1069.0 L864.9,1068.8 L865.6,1070.4 L866.2,1071.0 L866.9,1070.0 L867.5,1068.9 L868.2,1068.2 L868.8,1068.8 L869.5,1071.0 L870.1,1069.4 L870.8,1067.8 L871.4,1068.8 L872.1,1068.8 L872.7,1070.2 L873.4,1070.9 L874.0,1069.6 L874.7,1068.2 L875.3,1068.4 L876.0,1072.6 L876.7,1072.9 L877.3,1069.4 L878.0,1067.8 L878.6,1067.5 L879.3,1066.3 L879.9,1065.5 L880.6,1066.7 L881.2,1067.1 L881.9,1069.8 L882.5,1069.9 L883.2,1067.9 L883.8,1069.2 L884.5,1069.1 L885.1,1068.1 L885.8,1068.9 L886.4,1069.0 L887.1,1068.2 L887.7,1066.7 L888.4,1065.2 L889.0,1062.5 L889.7,1060.7 L890.3,1057.6 L891.0,1052.9 L891.6,1048.6 L892.3,1042.4 L892.9,1039.2 L893.6,1038.8 L894.2,1039.7 L894.9,1040.8 L895.6,1046.0 L896.2,1051.2 L896.9,1056.1 L897.5,1061.4 L898.2,1062.9 L898.8,1065.7 L899.5,1067.4 L900.1,1066.9 L900.8,1069.0 L901.4,1070.2 L902.1,1069.6 L902.7,1071.6 L903.4,1071.4 L904.0,1070.3 L904.7,1068.6 L905.3,1068.5 L906.0,1067.7 L906.6,1066.8 L907.3,1065.7 L907.9,1063.5 L908.6,1063.5 L909.2,1061.6 L909.9,1059.3 L910.5,1057.1 L911.2,1054.8 L911.8,1055.6 L912.5,1058.3 L913.1,1061.0 L913.8,1061.0 L914.5,1059.0 L915.1,1060.0 L915.8,1062.4 L916.4,1064.8 L917.1,1067.1 L917.7,1068.2 L918.4,1068.1 L919.0,1070.2 L919.7,1070.2 L920.3,1070.2 L921.0,1071.2 L921.6,1070.5 L922.3,1070.8 L922.9,1071.2 L923.6,1072.0 L924.2,1071.2 L924.9,1071.1 L925.5,1068.4 L926.2,1067.8 L926.8,1070.9 L927.5,1071.0 L928.1,1071.5 L928.8,1073.4 L929.4,1072.6 L930.1,1069.8 L930.7,1071.1 L931.4,1071.4 L932.0,1071.1 L932.7,1071.1 L933.4,1069.5 L934.0,1069.0 L934.7,1069.0 L935.3,1070.1 L936.0,1069.7 L936.6,1069.5 L937.3,1070.0 L937.9,1068.8 L938.6,1069.5 L939.2,1071.5 L939.9,1070.6 L940.5,1070.4 L941.2,1071.9 L941.8,1071.9 L942.5,1070.2 L943.1,1069.2 L943.8,1072.3 L944.4,1071.4 L945.1,1067.1 L945.7,1066.0 L946.4,1068.7 L947.0,1070.4 L947.7,1069.3 L948.3,1068.5 L949.0,1069.0 L949.6,1071.0 L950.3,1070.2 L951.0,1068.5 L951.6,1070.6 L952.3,1071.6 L952.9,1069.9 L953.6,1069.6 L954.2,1069.3 L954.9,1068.5 L955.5,1068.4 L956.2,1069.2 L956.8,1070.9 L957.5,1069.7 L958.1,1065.8 L958.8,1062.3 L959.4,1060.2 L960.1,1057.2 L960.7,1050.1 L961.4,1044.0 L962.0,1043.3 L962.7,1045.8 L963.3,1051.6 L964.0,1057.4 L964.6,1062.4 L965.3,1066.7 L965.9,1068.1 L966.6,1069.6 L967.2,1072.0 L967.9,1072.6 L968.5,1070.3 L969.2,1069.5 L969.9,1070.2 L970.5,1069.6 L971.2,1068.4 L971.8,1067.6 L972.5,1068.6 L973.1,1068.6 L973.8,1067.1 L974.4,1066.6 L975.1,1066.3 L975.7,1064.1 L976.4,1062.2 L977.0,1059.1 L977.7,1058.0 L978.3,1060.7 L979.0,1061.9 L979.6,1061.0 L980.3,1063.1 L980.9,1066.6 L981.6,1067.8 L982.2,1068.8 L982.9,1068.9 L983.5,1068.2 L984.2,1070.0 L984.8,1071.3 L985.5,1068.4 L986.1,1069.0 L986.8,1070.8 L987.4,1071.2 L988.1,1073.6 L988.8,1072.9 L989.4,1069.1 L990.1,1069.4 L990.7,1072.5 L991.4,1071.7 L992.0,1069.8 L992.7,1069.1 L993.3,1068.2 L994.0,1069.5 L994.6,1070.0 L995.3,1071.6 L995.9,1070.9 L996.6,1068.9 L997.2,1068.9 L997.9,1068.0 L998.5,1069.4 L999.2,1070.6 L999.8,1071.2 L1000.5,1073.1 L1001.1,1072.3 L1001.8,1070.0 L1002.4,1070.9 L1003.1,1070.2 L1003.7,1068.7 L1004.4,1068.6 L1005.0,1068.9 L1005.7,1070.4 L1006.3,1067.9 L1007.0,1064.3 L1007.7,1063.9 L1008.3,1063.5 L1009.0,1062.2 L1009.6,1060.6 L1010.3,1059.8 L1010.9,1061.0 L1011.6,1059.5 L1012.2,1059.2 L1012.9,1061.0 L1013.5,1060.9 L1014.2,1061.6 L1014.8,1064.3 L1015.5,1064.8 L1016.1,1063.9 L1016.8,1065.5 L1017.4,1065.8 L1018.1,1068.2 L1018.7,1073.1 L1019.4,1072.4 L1020.0,1068.2 L1020.7,1067.5 L1021.3,1069.5 L1022.0,1070.8 L1022.6,1070.0 L1023.3,1071.8 L1023.9,1072.7 L1024.6,1071.6 L1025.2,1069.3 L1025.9,1069.3 L1026.6,1069.3 L1027.2,1068.7 L1027.9,1071.9 L1028.5,1069.7 L1029.2,1069.0 L1029.8,1070.6 L1030.5,1067.9 L1031.1,1069.1 L1031.8,1072.0 L1032.4,1070.5 L1033.1,1069.2 L1033.7,1071.4 L1034.4,1072.6 L1035.0,1071.8 L1035.7,1069.7 L1036.3,1069.6 L1037.0,1069.9 L1037.6,1068.0 L1038.3,1067.4 L1038.9,1067.6 L1039.6,1067.6 L1040.2,1070.7 L1040.9,1070.7 L1041.5,1068.8 L1042.2,1070.1 L1042.8,1071.5 L1043.5,1073.0 L1044.2,1073.0 L1044.8,1071.4 L1045.5,1071.5 L1046.1,1072.3 L1046.8,1071.8 L1047.4,1070.3 L1048.1,1070.0 L1048.7,1070.8 L1049.4,1069.2 L1050.0,1069.3 L1050.7,1070.1 L1051.3,1070.8 L1052.0,1071.1 L1052.6,1069.9 L1053.3,1070.0 L1053.9,1070.6 L1054.6,1071.8 L1055.2,1071.7 L1055.9,1071.1 L1056.5,1069.8 L1057.2,1068.4 L1057.8,1070.7 L1058.5,1070.9 L1059.1,1070.2 L1059.8,1070.4 L1060.4,1070.4 L1061.1,1072.3 L1061.7,1070.8 L1062.4,1068.9 L1063.1,1071.1 L1063.7,1073.5 L1064.4,1072.8 L1065.0,1072.1 L1065.7,1071.9 L1066.3,1070.1 L1067.0,1068.3 L1067.6,1069.3 L1068.3,1069.4 L1068.9,1067.9 L1069.6,1069.7 L1070.2,1072.5 L1070.9,1071.2 L1071.5,1068.9 L1072.2,1067.4 L1072.8,1066.6 L1073.5,1068.2 L1074.1,1067.9 L1074.8,1069.8 L1075.4,1071.3 L1076.1,1070.5 L1076.7,1068.9 L1077.4,1068.1 L1078.0,1072.9 L1078.7,1072.1 L1079.3,1069.9 L1080.0,1070.5 L1080.6,1070.1 L1081.3,1070.6 L1082.0,1069.5 L1082.6,1069.6 L1083.3,1071.2 L1083.9,1070.0 L1084.6,1068.6 L1085.2,1070.0 L1085.9,1069.7 L1086.5,1070.2 L1087.2,1069.1 L1087.8,1068.3 L1088.5,1069.8 L1089.1,1069.7 L1089.8,1071.0 L1090.4,1072.5 L1091.1,1071.4 L1091.7,1069.9 L1092.4,1068.7 L1093.0,1068.6 L1093.7,1071.1 L1094.3,1071.0 L1095.0,1069.1 L1095.6,1068.6 L1096.3,1069.1 L1096.9,1071.3 L1097.6,1070.5 L1098.2,1070.0 L1098.9,1070.6 L1099.5,1071.4 L1100.2,1071.3 L1100.9,1070.5 L1101.5,1070.2 L1102.2,1067.6 L1102.8,1067.5 L1103.5,1070.5 L1104.1,1072.6 L1104.8,1072.3 L1105.4,1070.7 L1106.1,1069.5 L1106.7,1070.0 L1107.4,1070.0 L1108.0,1069.6 L1108.7,1069.2 L1109.3,1068.1 L1110.0,1068.8 L1110.6,1070.3 L1111.3,1072.1 L1111.9,1073.7 L1112.6,1072.5 L1113.2,1072.4 L1113.9,1071.5 L1114.5,1069.2 L1115.2,1069.9 L1115.8,1071.4 L1116.5,1071.5 L1117.1,1070.9 L1117.8,1070.9 L1118.4,1070.6" stroke="#880e0e" stroke-width="7"/>
</g>
<rect x="142.5" y="31.5" width="975.9000000000001" height="1051.9" fill="none" stroke="#111" stroke-width="6"/>
<line x1="206.0" y1="1083.4" x2="206.0" y2="1072.4" stroke="#111" stroke-width="4"/>
<text x="206.0" y="1130" font-family='"Liberation Serif", serif' font-size="35" text-anchor="middle" fill="#111">10</text>
<line x1="336.4" y1="1083.4" x2="336.4" y2="1072.4" stroke="#111" stroke-width="4"/>
<text x="336.4" y="1130" font-family='"Liberation Serif", serif' font-size="35" text-anchor="middle" fill="#111">20</text>
<line x1="466.7" y1="1083.4" x2="466.7" y2="1072.4" stroke="#111" stroke-width="4"/>
<text x="466.7" y="1130" font-family='"Liberation Serif", serif' font-size="35" text-anchor="middle" fill="#111">30</text>
<line x1="597.0" y1="1083.4" x2="597.0" y2="1072.4" stroke="#111" stroke-width="4"/>
<text x="597.0" y="1130" font-family='"Liberation Serif", serif' font-size="35" text-anchor="middle" fill="#111">40</text>
<line x1="727.4" y1="1083.4" x2="727.4" y2="1072.4" stroke="#111" stroke-width="4"/>
<text x="727.4" y="1130" font-family='"Liberation Serif", serif' font-size="35" text-anchor="middle" fill="#111">50</text>
<line x1="857.8" y1="1083.4" x2="857.8" y2="1072.4" stroke="#111" stroke-width="4"/>
<text x="857.8" y="1130" font-family='"Liberation Serif", serif' font-size="35" text-anchor="middle" fill="#111">60</text>
<line x1="988.1" y1="1083.4" x2="988.1" y2="1072.4" stroke="#111" stroke-width="4"/>
<text x="988.1" y="1130" font-family='"Liberation Serif", serif' font-size="35" text-anchor="middle" fill="#111">70</text>
<line x1="1118.5" y1="1083.4" x2="1118.5" y2="1072.4" stroke="#111" stroke-width="4"/>
<text x="1118.5" y="1130" font-family='"Liberation Serif", serif' font-size="35" text-anchor="middle" fill="#111">80</text>
<text x="660" y="1191" font-family='"Liberation Serif", serif' font-weight="bold" font-size="51" text-anchor="middle" fill="#000">2Theta (degree)</text>
<text transform="translate(106.6,512.5) rotate(-90)" font-family='"Liberation Serif", serif' font-weight="bold" font-size="50" text-anchor="middle" fill="#000">intensity</text>
<text x="273" y="112" font-family='"Liberation Serif", serif' font-size="35" text-anchor="middle" fill="#222">003</text>
<text x="378" y="340" font-family='"Liberation Serif", serif' font-size="35" text-anchor="middle" fill="#222">006</text>
<text x="505" y="432" font-family='"Liberation Serif", serif' font-size="35" text-anchor="middle" fill="#222">009</text>
<text x="823" y="462" font-family='"Liberation Serif", serif' font-size="35" text-anchor="middle" fill="#222">110</text>
<text x="911" y="459" font-family='"Liberation Serif", serif' font-size="35" text-anchor="middle" fill="#222">113</text>
<text x="316" y="602" font-family='"Liberation Serif", serif' font-size="35" text-anchor="middle" fill="#222">001</text>
<text x="208" y="1013" font-family='"Liberation Serif", serif' font-size="35" text-anchor="middle" fill="#222">003</text>
<line x1="734" y1="91.8" x2="822" y2="91.8" stroke="#174b6b" stroke-width="6"/>
<text x="828" y="104" font-family='"Liberation Serif", serif' font-weight="bold" font-size="41" fill="#111">CaZnAl-LDHs</text>
<line x1="870" y1="598.8" x2="956" y2="598.8" stroke="#6b1616" stroke-width="6"/>
<text x="959" y="613.5" font-family='"Liberation Serif", serif' font-weight="bold" font-size="41" fill="#111">HTLc</text>
<text x="19" y="160.5" font-family='"Liberation Serif", serif' font-weight="bold" font-size="128" fill="#000">a</text>
<text x="1154" y="160.5" font-family='"Liberation Serif", serif' font-weight="bold" font-size="128" fill="#000">b</text>
<text x="62.5" y="1197" font-family='"Liberation Serif", serif' font-weight="bold" font-size="128" fill="#000">c</text>
<text x="1152.5" y="1198" font-family='"Liberation Serif", serif' font-weight="bold" font-size="128" fill="#000">d</text>
<clipPath id="clipB"><rect x="1299.6" y="36.8" width="1063.2000000000003" height="850.2"/></clipPath>
<g clip-path="url(#clipB)">
<rect x="1291.5" y="877.8" width="18" height="18" fill="#1c5e37" stroke="#1c5e37" stroke-width="2.5"/>
<rect x="1293.8" y="877.7" width="18" height="18" fill="#1c5e37" stroke="#1c5e37" stroke-width="2.5"/>
<rect x="1296.3" y="877.6" width="18" height="18" fill="#1c5e37" stroke="#1c5e37" stroke-width="2.5"/>
<rect x="1298.8" y="877.5" width="18" height="18" fill="#1c5e37" stroke="#1c5e37" stroke-width="2.5"/>
<rect x="1301.3" y="877.3" width="18" height="18" fill="#1c5e37" stroke="#1c5e37" stroke-width="2.5"/>
<rect x="1303.9" y="877.0" width="18" height="18" fill="#1c5e37" stroke="#1c5e37" stroke-width="2.5"/>
<rect x="1306.6" y="876.7" width="18" height="18" fill="#1c5e37" stroke="#1c5e37" stroke-width="2.5"/>
<rect x="1309.4" y="876.3" width="18" height="18" fill="#1c5e37" stroke="#1c5e37" stroke-width="2.5"/>
<rect x="1312.2" y="875.7" width="18" height="18" fill="#1c5e37" stroke="#1c5e37" stroke-width="2.5"/>
<rect x="1315.1" y="875.0" width="18" height="18" fill="#1c5e37" stroke="#1c5e37" stroke-width="2.5"/>
<rect x="1318.1" y="874.1" width="18" height="18" fill="#1c5e37" stroke="#1c5e37" stroke-width="2.5"/>
<rect x="1321.1" y="873.0" width="18" height="18" fill="#1c5e37" stroke="#1c5e37" stroke-width="2.5"/>
<rect x="1324.2" y="871.5" width="18" height="18" fill="#1c5e37" stroke="#1c5e37" stroke-width="2.5"/>
<rect x="1327.4" y="869.7" width="18" height="18" fill="#1c5e37" stroke="#1c5e37" stroke-width="2.5"/>
<rect x="1330.7" y="867.5" width="18" height="18" fill="#1c5e37" stroke="#1c5e37" stroke-width="2.5"/>
<rect x="1334.1" y="864.7" width="18" height="18" fill="#1c5e37" stroke="#1c5e37" stroke-width="2.5"/>
<rect x="1337.5" y="861.3" width="18" height="18" fill="#1c5e37" stroke="#1c5e37" stroke-width="2.5"/>
<rect x="1341.1" y="857.3" width="18" height="18" fill="#1c5e37" stroke="#1c5e37" stroke-width="2.5"/>
<rect x="1344.7" y="852.3" width="18" height="18" fill="#1c5e37" stroke="#1c5e37" stroke-width="2.5"/>
<rect x="1348.4" y="846.4" width="18" height="18" fill="#1c5e37" stroke="#1c5e37" stroke-width="2.5"/>
<rect x="1352.2" y="839.4" width="18" height="18" fill="#1c5e37" stroke="#1c5e37" stroke-width="2.5"/>
<rect x="1356.1" y="831.1" width="18" height="18" fill="#1c5e37" stroke="#1c5e37" stroke-width="2.5"/>
<rect x="1360.2" y="821.4" width="18" height="18" fill="#1c5e37" stroke="#1c5e37" stroke-width="2.5"/>
<rect x="1364.3" y="810.1" width="18" height="18" fill="#1c5e37" stroke="#1c5e37" stroke-width="2.5"/>
<rect x="1368.5" y="797.1" width="18" height="18" fill="#1c5e37" stroke="#1c5e37" stroke-width="2.5"/>
<rect x="1372.8" y="782.3" width="18" height="18" fill="#1c5e37" stroke="#1c5e37" stroke-width="2.5"/>
<rect x="1377.3" y="765.4" width="18" height="18" fill="#1c5e37" stroke="#1c5e37" stroke-width="2.5"/>
<rect x="1381.8" y="746.3" width="18" height="18" fill="#1c5e37" stroke="#1c5e37" stroke-width="2.5"/>
<rect x="1386.5" y="725.0" width="18" height="18" fill="#1c5e37" stroke="#1c5e37" stroke-width="2.5"/>
<rect x="1391.2" y="701.4" width="18" height="18" fill="#1c5e37" stroke="#1c5e37" stroke-width="2.5"/>
<rect x="1396.1" y="675.5" width="18" height="18" fill="#1c5e37" stroke="#1c5e37" stroke-width="2.5"/>
<rect x="1401.2" y="647.1" width="18" height="18" fill="#1c5e37" stroke="#1c5e37" stroke-width="2.5"/>
<rect x="1406.3" y="616.6" width="18" height="18" fill="#1c5e37" stroke="#1c5e37" stroke-width="2.5"/>
<rect x="1411.6" y="583.8" width="18" height="18" fill="#1c5e37" stroke="#1c5e37" stroke-width="2.5"/>
<rect x="1417.0" y="549.0" width="18" height="18" fill="#1c5e37" stroke="#1c5e37" stroke-width="2.5"/>
<rect x="1422.6" y="512.4" width="18" height="18" fill="#6e9a2b" stroke="#5f8a28" stroke-width="2.5"/>
<rect x="1428.3" y="474.3" width="18" height="18" fill="#6e9a2b" stroke="#5f8a28" stroke-width="2.5"/>
<rect x="1434.1" y="435.1" width="18" height="18" fill="#6e9a2b" stroke="#5f8a28" stroke-width="2.5"/>
<rect x="1440.1" y="395.2" width="18" height="18" fill="#6e9a2b" stroke="#5f8a28" stroke-width="2.5"/>
<rect x="1446.3" y="354.9" width="18" height="18" fill="#6e9a2b" stroke="#5f8a28" stroke-width="2.5"/>
<rect x="1452.6" y="315.0" width="18" height="18" fill="#6e9a2b" stroke="#5f8a28" stroke-width="2.5"/>
<rect x="1459.0" y="275.8" width="18" height="18" fill="#6e9a2b" stroke="#5f8a28" stroke-width="2.5"/>
<rect x="1465.7" y="237.9" width="18" height="18" fill="#6e9a2b" stroke="#5f8a28" stroke-width="2.5"/>
<rect x="1472.4" y="202.0" width="18" height="18" fill="#6e9a2b" stroke="#5f8a28" stroke-width="2.5"/>
<rect x="1479.4" y="168.6" width="18" height="18" fill="#6e9a2b" stroke="#5f8a28" stroke-width="2.5"/>
<rect x="1486.5" y="138.2" width="18" height="18" fill="#6e9a2b" stroke="#5f8a28" stroke-width="2.5"/>
<rect x="1493.9" y="111.4" width="18" height="18" fill="#6e9a2b" stroke="#5f8a28" stroke-width="2.5"/>
<rect x="1501.4" y="88.7" width="18" height="18" fill="#6e9a2b" stroke="#5f8a28" stroke-width="2.5"/>
<rect x="1509.1" y="70.4" width="18" height="18" fill="#6e9a2b" stroke="#5f8a28" stroke-width="2.5"/>
<rect x="1517.0" y="57.0" width="18" height="18" fill="#6e9a2b" stroke="#5f8a28" stroke-width="2.5"/>
<rect x="1525.1" y="48.6" width="18" height="18" fill="#6e9a2b" stroke="#5f8a28" stroke-width="2.5"/>
<rect x="1533.4" y="45.4" width="18" height="18" fill="#6e9a2b" stroke="#5f8a28" stroke-width="2.5"/>
<rect x="1541.9" y="47.5" width="18" height="18" fill="#6e9a2b" stroke="#5f8a28" stroke-width="2.5"/>
<rect x="1550.6" y="54.9" width="18" height="18" fill="#6e9a2b" stroke="#5f8a28" stroke-width="2.5"/>
<rect x="1559.6" y="67.3" width="18" height="18" fill="#c3c832" stroke="#8e9630" stroke-width="2.5"/>
<rect x="1568.7" y="84.6" width="18" height="18" fill="#c3c832" stroke="#8e9630" stroke-width="2.5"/>
<rect x="1578.1" y="106.5" width="18" height="18" fill="#c3c832" stroke="#8e9630" stroke-width="2.5"/>
<rect x="1587.8" y="132.5" width="18" height="18" fill="#c3c832" stroke="#8e9630" stroke-width="2.5"/>
<rect x="1597.7" y="162.2" width="18" height="18" fill="#c3c832" stroke="#8e9630" stroke-width="2.5"/>
<rect x="1607.8" y="195.1" width="18" height="18" fill="#c3c832" stroke="#8e9630" stroke-width="2.5"/>
<rect x="1618.2" y="230.5" width="18" height="18" fill="#c3c832" stroke="#8e9630" stroke-width="2.5"/>
<rect x="1628.9" y="268.0" width="18" height="18" fill="#c3c832" stroke="#8e9630" stroke-width="2.5"/>
<rect x="1639.8" y="307.0" width="18" height="18" fill="#c3c832" stroke="#8e9630" stroke-width="2.5"/>
<rect x="1651.0" y="346.9" width="18" height="18" fill="#c3c832" stroke="#8e9630" stroke-width="2.5"/>
<rect x="1662.5" y="387.1" width="18" height="18" fill="#c3c832" stroke="#8e9630" stroke-width="2.5"/>
<rect x="1674.3" y="427.2" width="18" height="18" fill="#c3c832" stroke="#8e9630" stroke-width="2.5"/>
<rect x="1686.4" y="466.6" width="18" height="18" fill="#e9cf2e" stroke="#b3a23a" stroke-width="2.5"/>
<rect x="1698.8" y="504.9" width="18" height="18" fill="#e9cf2e" stroke="#b3a23a" stroke-width="2.5"/>
<rect x="1711.5" y="541.8" width="18" height="18" fill="#e9cf2e" stroke="#b3a23a" stroke-width="2.5"/>
<rect x="1724.6" y="577.0" width="18" height="18" fill="#e9cf2e" stroke="#b3a23a" stroke-width="2.5"/>
<rect x="1737.9" y="610.1" width="18" height="18" fill="#e9cf2e" stroke="#b3a23a" stroke-width="2.5"/>
<rect x="1751.6" y="641.2" width="18" height="18" fill="#e9cf2e" stroke="#b3a23a" stroke-width="2.5"/>
<rect x="1765.7" y="670.0" width="18" height="18" fill="#e9cf2e" stroke="#b3a23a" stroke-width="2.5"/>
<rect x="1780.1" y="696.4" width="18" height="18" fill="#e9cf2e" stroke="#b3a23a" stroke-width="2.5"/>
<rect x="1794.9" y="720.5" width="18" height="18" fill="#e9cf2e" stroke="#b3a23a" stroke-width="2.5"/>
<rect x="1810.0" y="742.2" width="18" height="18" fill="#e9cf2e" stroke="#b3a23a" stroke-width="2.5"/>
<rect x="1825.6" y="761.7" width="18" height="18" fill="#f2b42a" stroke="#c09a40" stroke-width="2.5"/>
<rect x="1841.5" y="779.0" width="18" height="18" fill="#f2b42a" stroke="#c09a40" stroke-width="2.5"/>
<rect x="1857.8" y="794.3" width="18" height="18" fill="#f2b42a" stroke="#c09a40" stroke-width="2.5"/>
<rect x="1874.6" y="807.7" width="18" height="18" fill="#f2b42a" stroke="#c09a40" stroke-width="2.5"/>
<rect x="1891.8" y="819.3" width="18" height="18" fill="#f2b42a" stroke="#c09a40" stroke-width="2.5"/>
<rect x="1909.4" y="829.3" width="18" height="18" fill="#f2b42a" stroke="#c09a40" stroke-width="2.5"/>
<rect x="1927.4" y="837.8" width="18" height="18" fill="#f2b42a" stroke="#c09a40" stroke-width="2.5"/>
<rect x="1945.9" y="845.1" width="18" height="18" fill="#f2b42a" stroke="#c09a40" stroke-width="2.5"/>
<rect x="1964.9" y="851.2" width="18" height="18" fill="#f5811f" stroke="#e07a28" stroke-width="2.5"/>
<rect x="1984.4" y="856.3" width="18" height="18" fill="#f5811f" stroke="#e07a28" stroke-width="2.5"/>
<rect x="2004.4" y="860.6" width="18" height="18" fill="#f5811f" stroke="#e07a28" stroke-width="2.5"/>
<rect x="2024.8" y="864.1" width="18" height="18" fill="#f5811f" stroke="#e07a28" stroke-width="2.5"/>
<rect x="2045.8" y="867.0" width="18" height="18" fill="#f5811f" stroke="#e07a28" stroke-width="2.5"/>
<rect x="2067.3" y="869.3" width="18" height="18" fill="#f5811f" stroke="#e07a28" stroke-width="2.5"/>
<rect x="2089.4" y="871.2" width="18" height="18" fill="#e33d2e" stroke="#d83a30" stroke-width="2.5"/>
<rect x="2112.0" y="872.7" width="18" height="18" fill="#e33d2e" stroke="#d83a30" stroke-width="2.5"/>
<rect x="2135.2" y="873.9" width="18" height="18" fill="#e33d2e" stroke="#d83a30" stroke-width="2.5"/>
<rect x="2159.0" y="874.8" width="18" height="18" fill="#e33d2e" stroke="#d83a30" stroke-width="2.5"/>
<rect x="2183.4" y="875.6" width="18" height="18" fill="#e33d2e" stroke="#d83a30" stroke-width="2.5"/>
<rect x="2208.4" y="876.2" width="18" height="18" fill="#e33d2e" stroke="#d83a30" stroke-width="2.5"/>
<rect x="2234.1" y="876.6" width="18" height="18" fill="#d8132f" stroke="#d0122e" stroke-width="2.5"/>
<rect x="2260.4" y="877.0" width="18" height="18" fill="#d8132f" stroke="#d0122e" stroke-width="2.5"/>
<rect x="2287.4" y="877.2" width="18" height="18" fill="#d8132f" stroke="#d0122e" stroke-width="2.5"/>
<rect x="2315.0" y="877.4" width="18" height="18" fill="#d8132f" stroke="#d0122e" stroke-width="2.5"/>
<rect x="2343.4" y="877.6" width="18" height="18" fill="#d8132f" stroke="#d0122e" stroke-width="2.5"/>
</g>
<path d="M1297.1499999999999,36.8 H2365.25 M1297.1499999999999,887.0 H2365.25" fill="none" stroke="#2e2e2e" stroke-width="6.6"/>
<path d="M1299.6,36.8 V887.0 M2362.8,36.8 V887.0" fill="none" stroke="#2a2a2a" stroke-width="4.9"/>
<text x="1277.5" y="898.5" font-family='"Liberation Serif", serif' font-weight="bold" font-size="38" text-anchor="end" fill="#111">0</text>
<line x1="1299.6" y1="720.5" x2="1317.6" y2="720.5" stroke="#2e2e2e" stroke-width="4.5"/>
<text x="1277.5" y="732.0" font-family='"Liberation Serif", serif' font-weight="bold" font-size="38" text-anchor="end" fill="#111">20</text>
<line x1="1299.6" y1="554.0" x2="1317.6" y2="554.0" stroke="#2e2e2e" stroke-width="4.5"/>
<text x="1277.5" y="565.5" font-family='"Liberation Serif", serif' font-weight="bold" font-size="38" text-anchor="end" fill="#111">40</text>
<line x1="1299.6" y1="387.4" x2="1317.6" y2="387.4" stroke="#2e2e2e" stroke-width="4.5"/>
<text x="1277.5" y="398.9" font-family='"Liberation Serif", serif' font-weight="bold" font-size="38" text-anchor="end" fill="#111">60</text>
<line x1="1299.6" y1="220.9" x2="1317.6" y2="220.9" stroke="#2e2e2e" stroke-width="4.5"/>
<text x="1277.5" y="232.4" font-family='"Liberation Serif", serif' font-weight="bold" font-size="38" text-anchor="end" fill="#111">80</text>
<line x1="1299.6" y1="54.4" x2="1317.6" y2="54.4" stroke="#2e2e2e" stroke-width="4.5"/>
<text x="1277.5" y="65.9" font-family='"Liberation Serif", serif' font-weight="bold" font-size="38" text-anchor="end" fill="#111">100</text>
<line x1="1438.3" y1="887.0" x2="1438.3" y2="875.0" stroke="#2e2e2e" stroke-width="4.5"/>
<text x="1436.5" y="938.5" font-family='"Liberation Serif", serif' font-weight="bold" font-size="38" text-anchor="middle" fill="#111">100</text>
<line x1="1669.4" y1="887.0" x2="1669.4" y2="875.0" stroke="#2e2e2e" stroke-width="4.5"/>
<text x="1667.6" y="938.5" font-family='"Liberation Serif", serif' font-weight="bold" font-size="38" text-anchor="middle" fill="#111">200</text>
<line x1="1900.5" y1="887.0" x2="1900.5" y2="875.0" stroke="#2e2e2e" stroke-width="4.5"/>
<text x="1898.7" y="938.5" font-family='"Liberation Serif", serif' font-weight="bold" font-size="38" text-anchor="middle" fill="#111">300</text>
<line x1="2131.7" y1="887.0" x2="2131.7" y2="875.0" stroke="#2e2e2e" stroke-width="4.5"/>
<text x="2129.9" y="938.5" font-family='"Liberation Serif", serif' font-weight="bold" font-size="38" text-anchor="middle" fill="#111">400</text>
<text x="2361.0" y="938.5" font-family='"Liberation Serif", serif' font-weight="bold" font-size="38" text-anchor="middle" fill="#111">500</text>
<rect x="2390" y="921" width="6" height="11" fill="#888"/>
<text x="1827.5" y="995.4" font-family='"Liberation Serif", serif' font-weight="bold" font-size="49" text-anchor="middle" fill="#000">Size (nm)</text>
<text transform="translate(1210,420) rotate(-90)" font-family='"Liberation Serif", serif' font-weight="bold" font-size="48" text-anchor="middle" fill="#000">Percentage (%)</text>
<rect x="1395.6" y="1117.4" width="179.4" height="771.4" fill="#d9e86d" stroke="#74785a" stroke-width="2.2"/>
<path d="M1485.3,1108.8 V1126.0 M1477.3,1108.8 h16 M1477.3,1126.0 h16" stroke="#222" stroke-width="2.5" fill="none"/>
<rect x="1753.8" y="1694.5" width="181.7" height="194.3" fill="#90bb49" stroke="#74785a" stroke-width="2.2"/>
<path d="M1844.7,1692.4 V1696.7 M1836.7,1692.4 h16 M1836.7,1696.7 h16" stroke="#222" stroke-width="2.5" fill="none"/>
<rect x="2111.9" y="1672.6" width="179.3" height="216.2" fill="#4b962a" stroke="#74785a" stroke-width="2.2"/>
<path d="M2201.6,1671.2 V1674.1 M2193.6,1671.2 h16 M2193.6,1674.1 h16" stroke="#222" stroke-width="2.5" fill="none"/>
<rect x="1307.0" y="1028.5" width="1076.0" height="860.3" fill="none" stroke="#0c0c0c" stroke-width="5.8"/>
<line x1="1304.1" y1="1888.8" x2="2385.9" y2="1888.8" stroke="#1c1c1c" stroke-width="7.4"/>
<text x="1287.5" y="1899.8" font-family='"Liberation Serif", serif' font-weight="bold" font-size="36" text-anchor="end" fill="#111">0.0</text>
<line x1="1307.0" y1="1745.4" x2="1321.5" y2="1745.4" stroke="#1a1a1a" stroke-width="4.4"/>
<text x="1287.5" y="1756.4" font-family='"Liberation Serif", serif' font-weight="bold" font-size="36" text-anchor="end" fill="#111">0.2</text>
<line x1="1307.0" y1="1602.0" x2="1321.5" y2="1602.0" stroke="#1a1a1a" stroke-width="4.4"/>
<text x="1287.5" y="1613.0" font-family='"Liberation Serif", serif' font-weight="bold" font-size="36" text-anchor="end" fill="#111">0.4</text>
<line x1="1307.0" y1="1458.6" x2="1321.5" y2="1458.6" stroke="#1a1a1a" stroke-width="4.4"/>
<text x="1287.5" y="1469.6" font-family='"Liberation Serif", serif' font-weight="bold" font-size="36" text-anchor="end" fill="#111">0.6</text>
<line x1="1307.0" y1="1315.3" x2="1321.5" y2="1315.3" stroke="#1a1a1a" stroke-width="4.4"/>
<text x="1287.5" y="1326.3" font-family='"Liberation Serif", serif' font-weight="bold" font-size="36" text-anchor="end" fill="#111">0.8</text>
<line x1="1307.0" y1="1171.9" x2="1321.5" y2="1171.9" stroke="#1a1a1a" stroke-width="4.4"/>
<text x="1287.5" y="1182.9" font-family='"Liberation Serif", serif' font-weight="bold" font-size="36" text-anchor="end" fill="#111">1.0</text>
<text x="1287.5" y="1039.5" font-family='"Liberation Serif", serif' font-weight="bold" font-size="36" text-anchor="end" fill="#111">1.2</text>
<line x1="1484.4" y1="1888.8" x2="1484.4" y2="1873.8" stroke="#1a1a1a" stroke-width="5"/>
<text x="1443.0" y="1941" font-family='"Liberation Serif", serif' font-weight="bold" font-size="36" fill="#111">Ca<tspan font-size="24" dx="2" dy="-15" letter-spacing="4.5">2+</tspan></text>
<line x1="1844.7" y1="1888.8" x2="1844.7" y2="1873.8" stroke="#1a1a1a" stroke-width="5"/>
<text x="1800.5" y="1941" font-family='"Liberation Serif", serif' font-weight="bold" font-size="36" fill="#111">Zn<tspan font-size="24" dx="2" dy="-15" letter-spacing="4.5">2+</tspan></text>
<line x1="2203.5" y1="1888.8" x2="2203.5" y2="1873.8" stroke="#1a1a1a" stroke-width="5"/>
<text x="2166.5" y="1941" font-family='"Liberation Serif", serif' font-weight="bold" font-size="36" fill="#111">Al<tspan font-size="24" dx="2" dy="-15" letter-spacing="4.5">3+</tspan></text>
<text transform="translate(1203.5,1500) rotate(-90)" font-family='"Liberation Serif", serif' font-weight="bold" font-size="44.5" text-anchor="middle" fill="#000">Quantification(mg/L)</text>
<defs>
<filter id="tnoise" x="0" y="0" width="100%" height="100%" color-interpolation-filters="sRGB"><feTurbulence type="fractalNoise" baseFrequency="0.13" numOctaves="2" seed="4" result="n"/><feColorMatrix in="n" type="matrix" values="0.6 0.6 0 0 -0.1  0.6 0.6 0 0 -0.1  0.6 0.6 0 0 -0.1  0 0 0 0 1"/></filter>
<filter id="b2" x="-20%" y="-20%" width="140%" height="140%"><feGaussianBlur stdDeviation="2.2"/></filter>
<filter id="b4" x="-30%" y="-30%" width="160%" height="160%"><feGaussianBlur stdDeviation="5"/></filter>
<filter id="b10" x="-50%" y="-50%" width="200%" height="200%"><feGaussianBlur stdDeviation="12"/></filter>
<filter id="b30" x="-50%" y="-50%" width="200%" height="200%"><feGaussianBlur stdDeviation="40"/></filter>
<linearGradient id="g3" gradientUnits="userSpaceOnUse" x1="470" y1="1580" x2="650" y2="1660"><stop offset="0" stop-color="#303030"/><stop offset="0.3" stop-color="#4a4a4a"/><stop offset="0.7" stop-color="#707070"/><stop offset="1" stop-color="#808080"/></linearGradient>
<linearGradient id="g2" gradientUnits="userSpaceOnUse" x1="376" y1="1540" x2="578" y2="1530"><stop offset="0" stop-color="#444"/><stop offset="0.3" stop-color="#525252"/><stop offset="0.45" stop-color="#333"/><stop offset="0.75" stop-color="#3c3c3c"/><stop offset="1" stop-color="#4a4a4a"/></linearGradient>
<linearGradient id="g4" gradientUnits="userSpaceOnUse" x1="566" y1="1400" x2="650" y2="1540"><stop offset="0" stop-color="#383838"/><stop offset="0.5" stop-color="#505050"/><stop offset="1" stop-color="#464646"/></linearGradient>
<linearGradient id="g7" gradientUnits="userSpaceOnUse" x1="760" y1="1470" x2="880" y2="1580"><stop offset="0" stop-color="#2c2c2c"/><stop offset="0.45" stop-color="#404040"/><stop offset="0.8" stop-color="#606060"/><stop offset="1" stop-color="#7c7c7c"/></linearGradient>
<clipPath id="clipC"><rect x="190.5" y="1204.3" width="876.0" height="679.0"/></clipPath>
</defs>
<g clip-path="url(#clipC)">
<rect x="190.5" y="1204.3" width="876.0" height="679.0" fill="#797979"/>
<ellipse cx="660" cy="1560" rx="380" ry="230" fill="#8a8a8a" opacity="0.7" filter="url(#b30)"/>
<ellipse cx="815" cy="1615" rx="75" ry="42" fill="#b0b0b0" opacity="0.8" filter="url(#b10)"/>
<ellipse cx="668" cy="1556" rx="62" ry="22" fill="#a8a8a8" opacity="0.85" filter="url(#b10)"/><ellipse cx="690" cy="1605" rx="32" ry="45" fill="#9c9c9c" opacity="0.7" filter="url(#b10)"/>
<g filter="url(#b2)" fill="none" stroke="#dedede" stroke-width="9" opacity="0.85">
<path d="M303.5,1567.6 C304.1,1561.0 306.1,1550.1 310.0,1543.2 C313.9,1536.3 320.3,1530.2 326.9,1526.3 C333.5,1522.4 342.5,1520.1 349.4,1519.8 C356.3,1519.5 363.7,1521.6 368.2,1524.5 C372.7,1527.4 374.7,1531.8 376.5,1537.0 C378.3,1542.2 377.1,1550.2 379.0,1556.0 C380.9,1561.8 385.1,1566.9 388.0,1572.0 C390.9,1577.1 396.8,1580.9 396.3,1586.4 C395.8,1591.9 390.9,1600.0 385.0,1605.0 C379.1,1610.0 368.8,1615.4 360.7,1616.4 C352.6,1617.4 343.5,1614.2 336.3,1610.8 C329.1,1607.4 322.5,1600.5 317.5,1595.8 C312.5,1591.1 308.6,1587.3 306.3,1582.6 C304.0,1577.9 302.9,1574.2 303.5,1567.6Z"/>
<path d="M375.7,1548.9 C375.7,1543.9 374.8,1539.4 377.6,1533.8 C380.4,1528.2 383.9,1519.1 392.6,1515.1 C401.4,1511.0 418.9,1510.0 430.1,1509.5 C441.4,1509.0 444.5,1513.9 460.1,1512.3 C475.7,1510.7 507.0,1502.9 523.9,1500.1 C540.8,1497.3 553.9,1493.5 561.4,1495.4 C568.9,1497.3 567.0,1502.4 568.9,1511.3 C570.8,1520.2 571.1,1540.1 572.7,1548.9 C574.3,1557.7 586.4,1560.8 578.3,1563.9 C570.2,1567.0 541.1,1566.7 523.9,1567.6 C506.7,1568.5 488.2,1568.2 475.1,1569.5 C462.0,1570.8 454.5,1573.5 445.1,1575.1 C435.7,1576.7 427.6,1578.6 418.8,1578.9 C410.1,1579.2 399.5,1579.5 392.6,1577.0 C385.7,1574.5 380.4,1568.6 377.6,1563.9 C374.8,1559.2 375.7,1553.9 375.7,1548.9Z"/>
<path d="M469.5,1573.2 C471.7,1566.3 477.3,1562.3 486.4,1560.1 C495.5,1557.9 511.4,1558.8 523.9,1560.1 C536.4,1561.3 548.3,1567.1 561.4,1567.6 C574.5,1568.1 591.8,1562.3 602.7,1562.9 C613.7,1563.5 621.5,1567.5 627.1,1571.4 C632.7,1575.3 633.1,1578.0 636.5,1586.4 C639.9,1594.8 646.5,1611.7 647.7,1622.0 C649.0,1632.3 646.5,1640.5 644.0,1648.3 C641.5,1656.1 640.2,1663.3 632.7,1668.9 C625.2,1674.5 607.8,1680.1 599.0,1682.0 C590.2,1683.9 586.5,1682.4 580.2,1680.2 C573.9,1678.0 570.8,1673.9 561.4,1668.9 C552.0,1663.9 536.4,1657.1 523.9,1650.2 C511.4,1643.3 494.8,1635.8 486.4,1627.7 C477.9,1619.6 476.0,1610.5 473.2,1601.4 C470.4,1592.3 467.3,1580.1 469.5,1573.2Z"/>
<path d="M565.2,1455.0 C565.5,1447.2 565.8,1436.3 568.9,1426.9 C572.0,1417.5 577.3,1406.0 583.9,1398.8 C590.5,1391.6 599.5,1386.0 608.3,1383.8 C617.1,1381.6 629.9,1383.7 636.5,1385.6 C643.1,1387.5 647.1,1389.7 647.7,1395.0 C648.3,1400.3 641.5,1404.4 640.2,1417.5 C639.0,1430.6 639.2,1458.2 640.2,1473.8 C641.2,1489.4 641.5,1501.0 645.9,1511.3 C650.3,1521.6 668.1,1530.7 666.5,1535.7 C664.9,1540.7 646.2,1542.3 636.5,1541.4 C626.8,1540.5 617.7,1536.7 608.3,1530.1 C598.9,1523.5 587.1,1511.4 580.2,1502.0 C573.3,1492.6 569.6,1481.6 567.1,1473.8 C564.6,1466.0 564.9,1462.8 565.2,1455.0Z"/>
<path d="M653.9,1388.4 C656.3,1382.2 672.6,1368.4 683.0,1361.5 C693.4,1354.6 707.1,1350.1 716.1,1347.0 C725.1,1343.9 731.0,1341.8 736.9,1342.8 C742.8,1343.8 746.9,1345.6 751.4,1353.2 C755.9,1360.8 761.1,1377.7 763.9,1388.4 C766.7,1399.1 767.7,1406.8 768.0,1417.5 C768.3,1428.2 767.6,1442.0 765.9,1452.7 C764.2,1463.4 761.8,1473.5 757.6,1481.8 C753.5,1490.1 747.9,1496.6 741.0,1502.5 C734.1,1508.4 725.1,1512.8 716.1,1517.0 C707.1,1521.2 695.1,1524.6 687.1,1527.4 C679.1,1530.2 669.1,1535.0 668.4,1533.6 C667.7,1532.2 679.2,1527.0 683.0,1519.1 C686.8,1511.1 689.6,1498.4 691.3,1485.9 C693.0,1473.5 694.0,1455.8 693.3,1444.4 C692.6,1433.0 691.2,1425.1 687.1,1417.5 C683.0,1409.9 673.9,1403.6 668.4,1398.8 C662.9,1394.0 651.5,1394.6 653.9,1388.4Z"/>
<path d="M745.2,1506.7 C751.4,1499.1 763.2,1494.6 770.1,1485.9 C777.0,1477.2 780.5,1462.0 786.7,1454.8 C792.9,1447.5 798.8,1443.8 807.4,1442.4 C816.0,1441.0 829.9,1443.0 838.5,1446.5 C847.1,1450.0 851.3,1460.0 859.3,1463.1 C867.2,1466.2 879.6,1461.4 886.2,1465.2 C892.8,1469.0 896.3,1477.3 898.7,1485.9 C901.1,1494.5 902.1,1505.9 900.7,1517.0 C899.3,1528.1 894.5,1541.9 890.4,1552.3 C886.3,1562.7 882.8,1574.5 875.9,1579.3 C869.0,1584.1 857.5,1582.3 848.9,1581.3 C840.2,1580.2 831.6,1576.1 824.0,1573.0 C816.4,1569.9 811.2,1565.8 803.3,1562.7 C795.3,1559.6 783.2,1548.2 776.3,1554.4 C769.4,1560.6 767.0,1586.2 761.8,1600.0 C756.6,1613.8 750.7,1630.7 745.2,1637.3 C739.7,1643.9 733.6,1641.5 728.6,1639.4 C723.6,1637.3 716.1,1636.7 715.1,1624.9 C714.1,1613.2 719.5,1584.5 722.4,1568.9 C725.3,1553.4 728.9,1542.0 732.7,1531.6 C736.5,1521.2 739.0,1514.3 745.2,1506.7Z"/>
<path d="M799.1,1442.4 C800.1,1440.0 807.7,1431.4 813.6,1427.9 C819.5,1424.4 827.5,1421.9 834.4,1421.6 C841.3,1421.2 849.6,1422.7 855.1,1425.8 C860.6,1428.9 864.8,1435.1 867.6,1440.3 C870.4,1445.5 873.1,1453.1 871.7,1456.9 C870.3,1460.7 864.8,1464.8 859.3,1463.1 C853.8,1461.4 847.1,1450.0 838.5,1446.5 C829.9,1443.0 814.0,1443.1 807.4,1442.4 C800.8,1441.7 798.1,1444.8 799.1,1442.4Z"/>
<path d="M884.2,1452.7 C883.5,1446.5 889.3,1442.7 894.5,1440.3 C899.7,1437.9 907.7,1434.8 915.3,1438.2 C922.9,1441.7 929.5,1451.0 940.2,1461.0 C950.9,1471.0 972.4,1489.1 979.6,1498.4 C986.9,1507.7 984.8,1511.1 983.7,1517.0 C982.7,1522.9 979.2,1529.4 973.3,1533.6 C967.4,1537.8 956.7,1542.2 948.4,1541.9 C940.1,1541.6 930.5,1535.4 923.6,1531.6 C916.7,1527.8 910.8,1525.0 907.0,1519.1 C903.2,1513.2 902.1,1503.2 900.7,1496.3 C899.3,1489.4 901.5,1484.9 898.7,1477.6 C896.0,1470.3 884.9,1458.9 884.2,1452.7Z"/>
</g>
<path d="M728,1646 C760,1640 800,1628 815,1612 C826,1598 828,1590 850,1588" fill="none" stroke="#ffffff" stroke-width="16" stroke-linecap="round" filter="url(#b4)"/>
<path d="M735,1650 C770,1646 810,1634 835,1612 C845,1600 850,1594 880,1588" fill="none" stroke="#e0e0e0" stroke-width="20" stroke-linecap="round" opacity="0.6" filter="url(#b10)"/>
<g filter="url(#b2)">
<path d="M303.5,1567.6 C304.1,1561.0 306.1,1550.1 310.0,1543.2 C313.9,1536.3 320.3,1530.2 326.9,1526.3 C333.5,1522.4 342.5,1520.1 349.4,1519.8 C356.3,1519.5 363.7,1521.6 368.2,1524.5 C372.7,1527.4 374.7,1531.8 376.5,1537.0 C378.3,1542.2 377.1,1550.2 379.0,1556.0 C380.9,1561.8 385.1,1566.9 388.0,1572.0 C390.9,1577.1 396.8,1580.9 396.3,1586.4 C395.8,1591.9 390.9,1600.0 385.0,1605.0 C379.1,1610.0 368.8,1615.4 360.7,1616.4 C352.6,1617.4 343.5,1614.2 336.3,1610.8 C329.1,1607.4 322.5,1600.5 317.5,1595.8 C312.5,1591.1 308.6,1587.3 306.3,1582.6 C304.0,1577.9 302.9,1574.2 303.5,1567.6Z" fill="#626262"/>
<path d="M884.2,1452.7 C883.5,1446.5 889.3,1442.7 894.5,1440.3 C899.7,1437.9 907.7,1434.8 915.3,1438.2 C922.9,1441.7 929.5,1451.0 940.2,1461.0 C950.9,1471.0 972.4,1489.1 979.6,1498.4 C986.9,1507.7 984.8,1511.1 983.7,1517.0 C982.7,1522.9 979.2,1529.4 973.3,1533.6 C967.4,1537.8 956.7,1542.2 948.4,1541.9 C940.1,1541.6 930.5,1535.4 923.6,1531.6 C916.7,1527.8 910.8,1525.0 907.0,1519.1 C903.2,1513.2 902.1,1503.2 900.7,1496.3 C899.3,1489.4 901.5,1484.9 898.7,1477.6 C896.0,1470.3 884.9,1458.9 884.2,1452.7Z" fill="#5a5a5a"/>
<path d="M776.3,1554.4 C783.2,1548.2 795.3,1559.6 803.3,1562.7 C811.2,1565.8 821.2,1566.8 824.0,1573.0 C826.8,1579.2 822.7,1592.7 819.9,1600.0 C817.1,1607.3 814.7,1612.1 807.4,1616.6 C800.1,1621.1 786.0,1623.5 776.3,1627.0 C766.6,1630.5 754.5,1635.6 749.3,1637.3 C744.1,1639.0 743.1,1643.5 745.2,1637.3 C747.3,1631.1 756.6,1613.8 761.8,1600.0 C767.0,1586.2 769.4,1560.6 776.3,1554.4Z" fill="#8e8e8e"/>
<path d="M653.9,1388.4 C656.3,1382.2 672.6,1368.4 683.0,1361.5 C693.4,1354.6 707.1,1350.1 716.1,1347.0 C725.1,1343.9 731.0,1341.8 736.9,1342.8 C742.8,1343.8 746.9,1345.6 751.4,1353.2 C755.9,1360.8 761.1,1377.7 763.9,1388.4 C766.7,1399.1 767.7,1406.8 768.0,1417.5 C768.3,1428.2 767.6,1442.0 765.9,1452.7 C764.2,1463.4 761.8,1473.5 757.6,1481.8 C753.5,1490.1 747.9,1496.6 741.0,1502.5 C734.1,1508.4 725.1,1512.8 716.1,1517.0 C707.1,1521.2 695.1,1524.6 687.1,1527.4 C679.1,1530.2 669.1,1535.0 668.4,1533.6 C667.7,1532.2 679.2,1527.0 683.0,1519.1 C686.8,1511.1 689.6,1498.4 691.3,1485.9 C693.0,1473.5 694.0,1455.8 693.3,1444.4 C692.6,1433.0 691.2,1425.1 687.1,1417.5 C683.0,1409.9 673.9,1403.6 668.4,1398.8 C662.9,1394.0 651.5,1394.6 653.9,1388.4Z" fill="#464646"/>
<path d="M565.2,1455.0 C565.5,1447.2 565.8,1436.3 568.9,1426.9 C572.0,1417.5 577.3,1406.0 583.9,1398.8 C590.5,1391.6 599.5,1386.0 608.3,1383.8 C617.1,1381.6 629.9,1383.7 636.5,1385.6 C643.1,1387.5 647.1,1389.7 647.7,1395.0 C648.3,1400.3 641.5,1404.4 640.2,1417.5 C639.0,1430.6 639.2,1458.2 640.2,1473.8 C641.2,1489.4 641.5,1501.0 645.9,1511.3 C650.3,1521.6 668.1,1530.7 666.5,1535.7 C664.9,1540.7 646.2,1542.3 636.5,1541.4 C626.8,1540.5 617.7,1536.7 608.3,1530.1 C598.9,1523.5 587.1,1511.4 580.2,1502.0 C573.3,1492.6 569.6,1481.6 567.1,1473.8 C564.6,1466.0 564.9,1462.8 565.2,1455.0Z" fill="url(#g4)"/>
<path d="M639.4,1409.2 C641.3,1401.2 645.0,1398.4 649.8,1396.7 C654.6,1395.0 662.2,1395.3 668.4,1398.8 C674.6,1402.3 683.0,1409.9 687.1,1417.5 C691.2,1425.1 692.6,1433.0 693.3,1444.4 C694.0,1455.8 693.0,1473.5 691.3,1485.9 C689.6,1498.4 686.8,1511.1 683.0,1519.1 C679.2,1527.0 674.3,1533.6 668.4,1533.6 C662.5,1533.6 652.2,1527.0 647.7,1519.1 C643.2,1511.1 643.0,1498.4 641.5,1485.9 C640.0,1473.5 638.8,1457.2 638.4,1444.4 C638.0,1431.6 637.5,1417.2 639.4,1409.2Z" fill="#3a3a3a"/>
<path d="M375.7,1548.9 C375.7,1543.9 374.8,1539.4 377.6,1533.8 C380.4,1528.2 383.9,1519.1 392.6,1515.1 C401.4,1511.0 418.9,1510.0 430.1,1509.5 C441.4,1509.0 444.5,1513.9 460.1,1512.3 C475.7,1510.7 507.0,1502.9 523.9,1500.1 C540.8,1497.3 553.9,1493.5 561.4,1495.4 C568.9,1497.3 567.0,1502.4 568.9,1511.3 C570.8,1520.2 571.1,1540.1 572.7,1548.9 C574.3,1557.7 586.4,1560.8 578.3,1563.9 C570.2,1567.0 541.1,1566.7 523.9,1567.6 C506.7,1568.5 488.2,1568.2 475.1,1569.5 C462.0,1570.8 454.5,1573.5 445.1,1575.1 C435.7,1576.7 427.6,1578.6 418.8,1578.9 C410.1,1579.2 399.5,1579.5 392.6,1577.0 C385.7,1574.5 380.4,1568.6 377.6,1563.9 C374.8,1559.2 375.7,1553.9 375.7,1548.9Z" fill="url(#g2)"/>
<path d="M469.5,1573.2 C471.7,1566.3 477.3,1562.3 486.4,1560.1 C495.5,1557.9 511.4,1558.8 523.9,1560.1 C536.4,1561.3 548.3,1567.1 561.4,1567.6 C574.5,1568.1 591.8,1562.3 602.7,1562.9 C613.7,1563.5 621.5,1567.5 627.1,1571.4 C632.7,1575.3 633.1,1578.0 636.5,1586.4 C639.9,1594.8 646.5,1611.7 647.7,1622.0 C649.0,1632.3 646.5,1640.5 644.0,1648.3 C641.5,1656.1 640.2,1663.3 632.7,1668.9 C625.2,1674.5 607.8,1680.1 599.0,1682.0 C590.2,1683.9 586.5,1682.4 580.2,1680.2 C573.9,1678.0 570.8,1673.9 561.4,1668.9 C552.0,1663.9 536.4,1657.1 523.9,1650.2 C511.4,1643.3 494.8,1635.8 486.4,1627.7 C477.9,1619.6 476.0,1610.5 473.2,1601.4 C470.4,1592.3 467.3,1580.1 469.5,1573.2Z" fill="url(#g3)"/>
<path d="M799.1,1442.4 C800.1,1440.0 807.7,1431.4 813.6,1427.9 C819.5,1424.4 827.5,1421.9 834.4,1421.6 C841.3,1421.2 849.6,1422.7 855.1,1425.8 C860.6,1428.9 864.8,1435.1 867.6,1440.3 C870.4,1445.5 873.1,1453.1 871.7,1456.9 C870.3,1460.7 864.8,1464.8 859.3,1463.1 C853.8,1461.4 847.1,1450.0 838.5,1446.5 C829.9,1443.0 814.0,1443.1 807.4,1442.4 C800.8,1441.7 798.1,1444.8 799.1,1442.4Z" fill="#4c4c4c"/>
<path d="M745.2,1506.7 C751.4,1499.1 763.2,1494.6 770.1,1485.9 C777.0,1477.2 780.5,1462.0 786.7,1454.8 C792.9,1447.5 798.8,1443.8 807.4,1442.4 C816.0,1441.0 829.9,1443.0 838.5,1446.5 C847.1,1450.0 851.3,1460.0 859.3,1463.1 C867.2,1466.2 879.6,1461.4 886.2,1465.2 C892.8,1469.0 896.3,1477.3 898.7,1485.9 C901.1,1494.5 902.1,1505.9 900.7,1517.0 C899.3,1528.1 894.5,1541.9 890.4,1552.3 C886.3,1562.7 882.8,1574.5 875.9,1579.3 C869.0,1584.1 857.5,1582.3 848.9,1581.3 C840.2,1580.2 831.6,1576.1 824.0,1573.0 C816.4,1569.9 811.2,1565.8 803.3,1562.7 C795.3,1559.6 783.2,1548.2 776.3,1554.4 C769.4,1560.6 767.0,1586.2 761.8,1600.0 C756.6,1613.8 750.7,1630.7 745.2,1637.3 C739.7,1643.9 733.6,1641.5 728.6,1639.4 C723.6,1637.3 716.1,1636.7 715.1,1624.9 C714.1,1613.2 719.5,1584.5 722.4,1568.9 C725.3,1553.4 728.9,1542.0 732.7,1531.6 C736.5,1521.2 739.0,1514.3 745.2,1506.7Z" fill="url(#g7)"/>
</g>
<g filter="url(#b4)">
<path d="M693.0,1420.0 C694.2,1411.0 698.2,1401.7 703.0,1396.0 C707.8,1390.3 715.0,1386.7 722.0,1386.0 C729.0,1385.3 739.0,1387.2 745.0,1392.0 C751.0,1396.8 755.5,1405.3 758.0,1415.0 C760.5,1424.7 761.3,1439.2 760.0,1450.0 C758.7,1460.8 755.0,1471.7 750.0,1480.0 C745.0,1488.3 737.5,1495.3 730.0,1500.0 C722.5,1504.7 711.0,1511.3 705.0,1508.0 C699.0,1504.7 695.5,1489.7 694.0,1480.0 C692.5,1470.3 696.2,1460.0 696.0,1450.0 C695.8,1440.0 691.8,1429.0 693.0,1420.0Z" fill="#5a5a5a" opacity="0.8"/>
<path d="M752.0,1500.0 C757.8,1495.0 768.3,1488.0 775.0,1488.0 C781.7,1488.0 790.2,1493.0 792.0,1500.0 C793.8,1507.0 789.2,1520.0 786.0,1530.0 C782.8,1540.0 777.3,1548.3 773.0,1560.0 C768.7,1571.7 764.7,1587.7 760.0,1600.0 C755.3,1612.3 750.0,1628.0 745.0,1634.0 C740.0,1640.0 734.5,1638.0 730.0,1636.0 C725.5,1634.0 719.3,1631.3 718.0,1622.0 C716.7,1612.7 720.0,1592.8 722.0,1580.0 C724.0,1567.2 727.0,1555.3 730.0,1545.0 C733.0,1534.7 736.3,1525.5 740.0,1518.0 C743.7,1510.5 746.2,1505.0 752.0,1500.0Z" fill="#1a1a1a" filter="url(#b2)"/>
<path d="M846.0,1548.0 C853.7,1541.7 870.8,1532.5 878.0,1532.0 C885.2,1531.5 888.3,1539.3 889.0,1545.0 C889.7,1550.7 885.2,1560.8 882.0,1566.0 C878.8,1571.2 875.0,1574.2 870.0,1576.0 C865.0,1577.8 858.3,1578.0 852.0,1577.0 C845.7,1576.0 833.0,1574.8 832.0,1570.0 C831.0,1565.2 838.3,1554.3 846.0,1548.0Z" fill="#a8a8a8" opacity="0.75"/>
</g>
<g filter="url(#b2)" fill="none" stroke="#2e2e2e" stroke-width="3" opacity="0.6">
<path d="M303.5,1567.6 C304.1,1561.0 306.1,1550.1 310.0,1543.2 C313.9,1536.3 320.3,1530.2 326.9,1526.3 C333.5,1522.4 342.5,1520.1 349.4,1519.8 C356.3,1519.5 363.7,1521.6 368.2,1524.5 C372.7,1527.4 374.7,1531.8 376.5,1537.0 C378.3,1542.2 377.1,1550.2 379.0,1556.0 C380.9,1561.8 385.1,1566.9 388.0,1572.0 C390.9,1577.1 396.8,1580.9 396.3,1586.4 C395.8,1591.9 390.9,1600.0 385.0,1605.0 C379.1,1610.0 368.8,1615.4 360.7,1616.4 C352.6,1617.4 343.5,1614.2 336.3,1610.8 C329.1,1607.4 322.5,1600.5 317.5,1595.8 C312.5,1591.1 308.6,1587.3 306.3,1582.6 C304.0,1577.9 302.9,1574.2 303.5,1567.6Z"/>
<path d="M375.7,1548.9 C375.7,1543.9 374.8,1539.4 377.6,1533.8 C380.4,1528.2 383.9,1519.1 392.6,1515.1 C401.4,1511.0 418.9,1510.0 430.1,1509.5 C441.4,1509.0 444.5,1513.9 460.1,1512.3 C475.7,1510.7 507.0,1502.9 523.9,1500.1 C540.8,1497.3 553.9,1493.5 561.4,1495.4 C568.9,1497.3 567.0,1502.4 568.9,1511.3 C570.8,1520.2 571.1,1540.1 572.7,1548.9 C574.3,1557.7 586.4,1560.8 578.3,1563.9 C570.2,1567.0 541.1,1566.7 523.9,1567.6 C506.7,1568.5 488.2,1568.2 475.1,1569.5 C462.0,1570.8 454.5,1573.5 445.1,1575.1 C435.7,1576.7 427.6,1578.6 418.8,1578.9 C410.1,1579.2 399.5,1579.5 392.6,1577.0 C385.7,1574.5 380.4,1568.6 377.6,1563.9 C374.8,1559.2 375.7,1553.9 375.7,1548.9Z"/>
<path d="M469.5,1573.2 C471.7,1566.3 477.3,1562.3 486.4,1560.1 C495.5,1557.9 511.4,1558.8 523.9,1560.1 C536.4,1561.3 548.3,1567.1 561.4,1567.6 C574.5,1568.1 591.8,1562.3 602.7,1562.9 C613.7,1563.5 621.5,1567.5 627.1,1571.4 C632.7,1575.3 633.1,1578.0 636.5,1586.4 C639.9,1594.8 646.5,1611.7 647.7,1622.0 C649.0,1632.3 646.5,1640.5 644.0,1648.3 C641.5,1656.1 640.2,1663.3 632.7,1668.9 C625.2,1674.5 607.8,1680.1 599.0,1682.0 C590.2,1683.9 586.5,1682.4 580.2,1680.2 C573.9,1678.0 570.8,1673.9 561.4,1668.9 C552.0,1663.9 536.4,1657.1 523.9,1650.2 C511.4,1643.3 494.8,1635.8 486.4,1627.7 C477.9,1619.6 476.0,1610.5 473.2,1601.4 C470.4,1592.3 467.3,1580.1 469.5,1573.2Z"/>
<path d="M565.2,1455.0 C565.5,1447.2 565.8,1436.3 568.9,1426.9 C572.0,1417.5 577.3,1406.0 583.9,1398.8 C590.5,1391.6 599.5,1386.0 608.3,1383.8 C617.1,1381.6 629.9,1383.7 636.5,1385.6 C643.1,1387.5 647.1,1389.7 647.7,1395.0 C648.3,1400.3 641.5,1404.4 640.2,1417.5 C639.0,1430.6 639.2,1458.2 640.2,1473.8 C641.2,1489.4 641.5,1501.0 645.9,1511.3 C650.3,1521.6 668.1,1530.7 666.5,1535.7 C664.9,1540.7 646.2,1542.3 636.5,1541.4 C626.8,1540.5 617.7,1536.7 608.3,1530.1 C598.9,1523.5 587.1,1511.4 580.2,1502.0 C573.3,1492.6 569.6,1481.6 567.1,1473.8 C564.6,1466.0 564.9,1462.8 565.2,1455.0Z"/>
<path d="M639.4,1409.2 C641.3,1401.2 645.0,1398.4 649.8,1396.7 C654.6,1395.0 662.2,1395.3 668.4,1398.8 C674.6,1402.3 683.0,1409.9 687.1,1417.5 C691.2,1425.1 692.6,1433.0 693.3,1444.4 C694.0,1455.8 693.0,1473.5 691.3,1485.9 C689.6,1498.4 686.8,1511.1 683.0,1519.1 C679.2,1527.0 674.3,1533.6 668.4,1533.6 C662.5,1533.6 652.2,1527.0 647.7,1519.1 C643.2,1511.1 643.0,1498.4 641.5,1485.9 C640.0,1473.5 638.8,1457.2 638.4,1444.4 C638.0,1431.6 637.5,1417.2 639.4,1409.2Z"/>
<path d="M653.9,1388.4 C656.3,1382.2 672.6,1368.4 683.0,1361.5 C693.4,1354.6 707.1,1350.1 716.1,1347.0 C725.1,1343.9 731.0,1341.8 736.9,1342.8 C742.8,1343.8 746.9,1345.6 751.4,1353.2 C755.9,1360.8 761.1,1377.7 763.9,1388.4 C766.7,1399.1 767.7,1406.8 768.0,1417.5 C768.3,1428.2 767.6,1442.0 765.9,1452.7 C764.2,1463.4 761.8,1473.5 757.6,1481.8 C753.5,1490.1 747.9,1496.6 741.0,1502.5 C734.1,1508.4 725.1,1512.8 716.1,1517.0 C707.1,1521.2 695.1,1524.6 687.1,1527.4 C679.1,1530.2 669.1,1535.0 668.4,1533.6 C667.7,1532.2 679.2,1527.0 683.0,1519.1 C686.8,1511.1 689.6,1498.4 691.3,1485.9 C693.0,1473.5 694.0,1455.8 693.3,1444.4 C692.6,1433.0 691.2,1425.1 687.1,1417.5 C683.0,1409.9 673.9,1403.6 668.4,1398.8 C662.9,1394.0 651.5,1394.6 653.9,1388.4Z"/>
<path d="M745.2,1506.7 C751.4,1499.1 763.2,1494.6 770.1,1485.9 C777.0,1477.2 780.5,1462.0 786.7,1454.8 C792.9,1447.5 798.8,1443.8 807.4,1442.4 C816.0,1441.0 829.9,1443.0 838.5,1446.5 C847.1,1450.0 851.3,1460.0 859.3,1463.1 C867.2,1466.2 879.6,1461.4 886.2,1465.2 C892.8,1469.0 896.3,1477.3 898.7,1485.9 C901.1,1494.5 902.1,1505.9 900.7,1517.0 C899.3,1528.1 894.5,1541.9 890.4,1552.3 C886.3,1562.7 882.8,1574.5 875.9,1579.3 C869.0,1584.1 857.5,1582.3 848.9,1581.3 C840.2,1580.2 831.6,1576.1 824.0,1573.0 C816.4,1569.9 811.2,1565.8 803.3,1562.7 C795.3,1559.6 783.2,1548.2 776.3,1554.4 C769.4,1560.6 767.0,1586.2 761.8,1600.0 C756.6,1613.8 750.7,1630.7 745.2,1637.3 C739.7,1643.9 733.6,1641.5 728.6,1639.4 C723.6,1637.3 716.1,1636.7 715.1,1624.9 C714.1,1613.2 719.5,1584.5 722.4,1568.9 C725.3,1553.4 728.9,1542.0 732.7,1531.6 C736.5,1521.2 739.0,1514.3 745.2,1506.7Z"/>
<path d="M799.1,1442.4 C800.1,1440.0 807.7,1431.4 813.6,1427.9 C819.5,1424.4 827.5,1421.9 834.4,1421.6 C841.3,1421.2 849.6,1422.7 855.1,1425.8 C860.6,1428.9 864.8,1435.1 867.6,1440.3 C870.4,1445.5 873.1,1453.1 871.7,1456.9 C870.3,1460.7 864.8,1464.8 859.3,1463.1 C853.8,1461.4 847.1,1450.0 838.5,1446.5 C829.9,1443.0 814.0,1443.1 807.4,1442.4 C800.8,1441.7 798.1,1444.8 799.1,1442.4Z"/>
<path d="M884.2,1452.7 C883.5,1446.5 889.3,1442.7 894.5,1440.3 C899.7,1437.9 907.7,1434.8 915.3,1438.2 C922.9,1441.7 929.5,1451.0 940.2,1461.0 C950.9,1471.0 972.4,1489.1 979.6,1498.4 C986.9,1507.7 984.8,1511.1 983.7,1517.0 C982.7,1522.9 979.2,1529.4 973.3,1533.6 C967.4,1537.8 956.7,1542.2 948.4,1541.9 C940.1,1541.6 930.5,1535.4 923.6,1531.6 C916.7,1527.8 910.8,1525.0 907.0,1519.1 C903.2,1513.2 902.1,1503.2 900.7,1496.3 C899.3,1489.4 901.5,1484.9 898.7,1477.6 C896.0,1470.3 884.9,1458.9 884.2,1452.7Z"/>
</g>
<path d="M460,1512 L524,1500 L562,1495" fill="none" stroke="#1a1a1a" stroke-width="4" filter="url(#b2)"/>
<rect x="190.5" y="1204.3" width="876.0" height="679.0" filter="url(#tnoise)" opacity="0.22" style="mix-blend-mode:overlay"/>
<line x1="775" y1="1838.5" x2="849" y2="1838.5" stroke="#fff" stroke-width="5"/>
<text transform="translate(866.5,1856.5) scale(1,1.06)" font-family='"Liberation Sans", sans-serif' font-weight="bold" font-size="53.5" fill="#ffffff">100 nm</text>
</g>
</g>
</svg>
</body></html>
